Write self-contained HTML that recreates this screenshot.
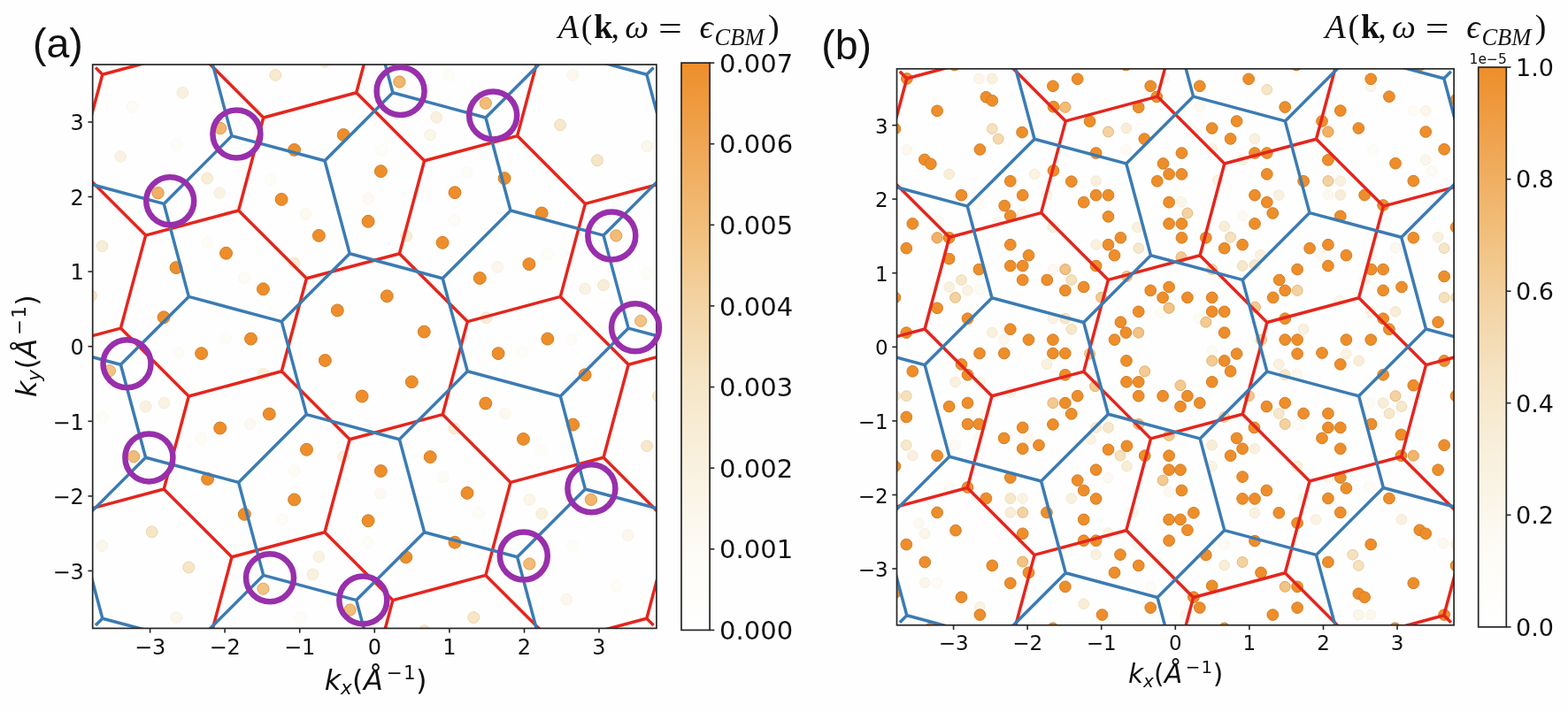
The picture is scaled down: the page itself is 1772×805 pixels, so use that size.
<!DOCTYPE html><html><head><meta charset="utf-8"><style>html,body{margin:0;padding:0;background:#fefefe;overflow:hidden}svg{display:block}</style></head><body><svg width="1772" height="805" viewBox="0 0 1772 805">
<defs><linearGradient id="cb" x1="0" y1="1" x2="0" y2="0"><stop offset="0" stop-color="rgb(255, 255, 255)"/><stop offset="0.14" stop-color="rgb(253, 251, 245)"/><stop offset="0.29" stop-color="rgb(249, 241, 223)"/><stop offset="0.43" stop-color="rgb(245, 230, 200)"/><stop offset="0.57" stop-color="rgb(243, 212, 165)"/><stop offset="0.71" stop-color="rgb(241, 190, 122)"/><stop offset="0.86" stop-color="rgb(239, 165, 82)"/><stop offset="1.0" stop-color="rgb(238, 142, 42)"/></linearGradient>
<clipPath id="clipa"><rect x="104.7" y="73.0" width="637.2" height="637.4"/></clipPath>
<clipPath id="circa"><circle cx="423.3" cy="391.7" r="445.9"/></clipPath>
<clipPath id="clipb"><rect x="1013.5" y="77.8" width="629.6" height="629.0"/></clipPath>
<clipPath id="circb"><circle cx="1328.3" cy="392.3" r="440.6"/></clipPath>
</defs>
<rect width="1772" height="805" fill="#fefefe"/>
<g clip-path="url(#clipa)">
<circle cx="199.4" cy="163.8" r="6.28" fill="rgb(253,252,247)" stroke="rgb(252,249,241)" stroke-width="1"/>
<circle cx="507.5" cy="85.0" r="6.28" fill="rgb(253,252,247)" stroke="rgb(252,249,241)" stroke-width="1"/>
<circle cx="431.0" cy="169.4" r="6.28" fill="rgb(253,252,247)" stroke="rgb(252,249,241)" stroke-width="1"/>
<circle cx="255.0" cy="383.0" r="6.28" fill="rgb(253,252,247)" stroke="rgb(252,249,241)" stroke-width="1"/>
<circle cx="731.0" cy="309.5" r="6.28" fill="rgb(253,252,247)" stroke="rgb(252,249,241)" stroke-width="1"/>
<circle cx="116.0" cy="471.5" r="6.28" fill="rgb(253,252,247)" stroke="rgb(252,249,241)" stroke-width="1"/>
<circle cx="590.0" cy="398.0" r="6.28" fill="rgb(253,252,247)" stroke="rgb(252,249,241)" stroke-width="1"/>
<circle cx="339.5" cy="698.1" r="6.28" fill="rgb(253,252,247)" stroke="rgb(252,249,241)" stroke-width="1"/>
<circle cx="647.6" cy="617.6" r="6.28" fill="rgb(253,252,247)" stroke="rgb(252,249,241)" stroke-width="1"/>
<circle cx="696.3" cy="662.3" r="6.28" fill="rgb(253,252,247)" stroke="rgb(252,249,241)" stroke-width="1"/>
<circle cx="645.3" cy="383.7" r="6.28" fill="rgb(253,252,247)" stroke="rgb(252,249,241)" stroke-width="1"/>
<circle cx="611.7" cy="509.1" r="6.28" fill="rgb(253,252,247)" stroke="rgb(252,249,241)" stroke-width="1"/>
<circle cx="415.6" cy="613.4" r="6.28" fill="rgb(253,252,247)" stroke="rgb(252,249,241)" stroke-width="1"/>
<circle cx="541.0" cy="579.8" r="6.28" fill="rgb(253,252,247)" stroke="rgb(252,249,241)" stroke-width="1"/>
<circle cx="227.2" cy="495.7" r="6.28" fill="rgb(253,252,247)" stroke="rgb(252,249,241)" stroke-width="1"/>
<circle cx="319.0" cy="587.5" r="6.28" fill="rgb(253,252,247)" stroke="rgb(252,249,241)" stroke-width="1"/>
<circle cx="234.9" cy="273.7" r="6.28" fill="rgb(253,252,247)" stroke="rgb(252,249,241)" stroke-width="1"/>
<circle cx="201.3" cy="399.1" r="6.28" fill="rgb(253,252,247)" stroke="rgb(252,249,241)" stroke-width="1"/>
<circle cx="305.6" cy="203.0" r="6.28" fill="rgb(253,252,247)" stroke="rgb(252,249,241)" stroke-width="1"/>
<circle cx="619.4" cy="287.1" r="6.28" fill="rgb(253,252,247)" stroke="rgb(252,249,241)" stroke-width="1"/>
<circle cx="527.6" cy="195.3" r="6.28" fill="rgb(253,252,247)" stroke="rgb(252,249,241)" stroke-width="1"/>
<circle cx="149.7" cy="120.7" r="6.28" fill="rgb(253,251,245)" stroke="rgb(252,247,237)" stroke-width="1"/>
<circle cx="275.9" cy="314.5" r="6.28" fill="rgb(253,251,245)" stroke="rgb(252,247,237)" stroke-width="1"/>
<circle cx="513.4" cy="248.9" r="6.28" fill="rgb(253,251,245)" stroke="rgb(252,247,237)" stroke-width="1"/>
<circle cx="332.6" cy="532.1" r="6.28" fill="rgb(253,251,245)" stroke="rgb(252,247,237)" stroke-width="1"/>
<circle cx="500.5" cy="539.5" r="6.28" fill="rgb(253,251,245)" stroke="rgb(252,247,237)" stroke-width="1"/>
<circle cx="416.0" cy="224.5" r="6.29" fill="rgb(253,250,243)" stroke="rgb(251,246,235)" stroke-width="1"/>
<circle cx="345.5" cy="242.0" r="6.29" fill="rgb(252,249,242)" stroke="rgb(251,246,233)" stroke-width="1"/>
<circle cx="282.9" cy="479.5" r="6.29" fill="rgb(252,249,242)" stroke="rgb(251,246,233)" stroke-width="1"/>
<circle cx="571.1" cy="467.5" r="6.29" fill="rgb(252,249,242)" stroke="rgb(251,246,233)" stroke-width="1"/>
<circle cx="430.0" cy="558.0" r="6.29" fill="rgb(252,249,242)" stroke="rgb(251,246,233)" stroke-width="1"/>
<circle cx="647.2" cy="84.9" r="6.30" fill="rgb(252,248,239)" stroke="rgb(250,244,229)" stroke-width="1"/>
<circle cx="731.1" cy="165.4" r="6.30" fill="rgb(251,247,236)" stroke="rgb(249,241,225)" stroke-width="1"/>
<circle cx="562.5" cy="302.0" r="6.30" fill="rgb(251,247,236)" stroke="rgb(249,241,225)" stroke-width="1"/>
<circle cx="115.5" cy="617.2" r="6.30" fill="rgb(251,247,236)" stroke="rgb(249,241,225)" stroke-width="1"/>
<circle cx="199.4" cy="698.1" r="6.30" fill="rgb(251,247,236)" stroke="rgb(249,241,225)" stroke-width="1"/>
<circle cx="709.6" cy="605.3" r="6.30" fill="rgb(251,247,236)" stroke="rgb(249,241,225)" stroke-width="1"/>
<circle cx="640.3" cy="677.6" r="6.30" fill="rgb(251,247,236)" stroke="rgb(249,241,225)" stroke-width="1"/>
<circle cx="486.2" cy="152.5" r="6.31" fill="rgb(251,246,233)" stroke="rgb(248,240,221)" stroke-width="1"/>
<circle cx="598.3" cy="564.9" r="6.31" fill="rgb(251,246,233)" stroke="rgb(248,240,221)" stroke-width="1"/>
<circle cx="136.2" cy="177.0" r="6.32" fill="rgb(250,243,228)" stroke="rgb(247,236,214)" stroke-width="1"/>
<circle cx="248.1" cy="218.1" r="6.32" fill="rgb(250,243,228)" stroke="rgb(247,236,214)" stroke-width="1"/>
<circle cx="661.1" cy="326.4" r="6.32" fill="rgb(250,243,228)" stroke="rgb(247,236,214)" stroke-width="1"/>
<circle cx="185.5" cy="455.6" r="6.32" fill="rgb(250,243,228)" stroke="rgb(247,236,214)" stroke-width="1"/>
<circle cx="360.4" cy="629.5" r="6.32" fill="rgb(250,243,228)" stroke="rgb(247,236,214)" stroke-width="1"/>
<circle cx="206.4" cy="104.8" r="6.34" fill="rgb(249,241,223)" stroke="rgb(246,233,208)" stroke-width="1"/>
<circle cx="493.2" cy="132.6" r="6.34" fill="rgb(249,241,223)" stroke="rgb(246,233,208)" stroke-width="1"/>
<circle cx="164.6" cy="459.6" r="6.34" fill="rgb(249,241,223)" stroke="rgb(246,233,208)" stroke-width="1"/>
<circle cx="297.4" cy="422.8" r="6.34" fill="rgb(249,241,223)" stroke="rgb(246,233,208)" stroke-width="1"/>
<circle cx="388.2" cy="516.2" r="6.34" fill="rgb(249,241,223)" stroke="rgb(246,233,208)" stroke-width="1"/>
<circle cx="353.4" cy="649.4" r="6.34" fill="rgb(249,241,223)" stroke="rgb(246,233,208)" stroke-width="1"/>
<circle cx="612.2" cy="580.8" r="6.34" fill="rgb(249,241,223)" stroke="rgb(246,233,208)" stroke-width="1"/>
<circle cx="234.2" cy="201.6" r="6.36" fill="rgb(248,237,215)" stroke="rgb(243,228,198)" stroke-width="1"/>
<circle cx="115.5" cy="278.3" r="6.36" fill="rgb(248,237,215)" stroke="rgb(243,228,198)" stroke-width="1"/>
<circle cx="332.6" cy="297.6" r="6.36" fill="rgb(248,237,215)" stroke="rgb(243,228,198)" stroke-width="1"/>
<circle cx="459.2" cy="266.8" r="6.36" fill="rgb(248,237,215)" stroke="rgb(243,228,198)" stroke-width="1"/>
<circle cx="549.6" cy="359.2" r="6.36" fill="rgb(248,237,215)" stroke="rgb(243,228,198)" stroke-width="1"/>
<circle cx="682.0" cy="322.4" r="6.36" fill="rgb(248,237,215)" stroke="rgb(243,228,198)" stroke-width="1"/>
<circle cx="513.4" cy="484.4" r="6.36" fill="rgb(248,237,215)" stroke="rgb(243,228,198)" stroke-width="1"/>
<circle cx="311.3" cy="84.9" r="6.38" fill="rgb(246,234,208)" stroke="rgb(242,221,184)" stroke-width="1"/>
<circle cx="633.1" cy="141.2" r="6.39" fill="rgb(246,232,204)" stroke="rgb(241,217,176)" stroke-width="1"/>
<circle cx="103.0" cy="334.4" r="6.39" fill="rgb(246,232,204)" stroke="rgb(241,217,176)" stroke-width="1"/>
<circle cx="731.1" cy="504.3" r="6.39" fill="rgb(246,232,204)" stroke="rgb(241,217,176)" stroke-width="1"/>
<circle cx="744.0" cy="448.0" r="6.39" fill="rgb(246,232,204)" stroke="rgb(241,217,176)" stroke-width="1"/>
<circle cx="366.9" cy="69.5" r="6.39" fill="rgb(246,232,204)" stroke="rgb(241,217,176)" stroke-width="1"/>
<circle cx="479.7" cy="713.3" r="6.39" fill="rgb(246,232,204)" stroke="rgb(241,217,176)" stroke-width="1"/>
<circle cx="675.0" cy="181.3" r="6.41" fill="rgb(245,230,199)" stroke="rgb(240,212,168)" stroke-width="1"/>
<circle cx="171.6" cy="601.3" r="6.41" fill="rgb(245,230,199)" stroke="rgb(240,212,168)" stroke-width="1"/>
<circle cx="213.3" cy="641.4" r="6.41" fill="rgb(245,230,199)" stroke="rgb(240,212,168)" stroke-width="1"/>
<circle cx="535.3" cy="698.1" r="6.41" fill="rgb(245,230,199)" stroke="rgb(240,212,168)" stroke-width="1"/>
<circle cx="724.1" cy="362.8" r="6.57" fill="rgb(241,195,132)" stroke="rgb(231,167,92)" stroke-width="1"/>
<circle cx="123.9" cy="419.2" r="6.57" fill="rgb(241,195,132)" stroke="rgb(231,167,92)" stroke-width="1"/>
<circle cx="297.4" cy="665.7" r="6.57" fill="rgb(241,195,132)" stroke="rgb(231,167,92)" stroke-width="1"/>
<circle cx="548.8" cy="116.7" r="6.60" fill="rgb(241,188,119)" stroke="rgb(229,159,80)" stroke-width="1"/>
<circle cx="696.3" cy="266.4" r="6.60" fill="rgb(241,188,119)" stroke="rgb(229,159,80)" stroke-width="1"/>
<circle cx="151.1" cy="516.2" r="6.60" fill="rgb(241,188,119)" stroke="rgb(229,159,80)" stroke-width="1"/>
<circle cx="395.6" cy="689.5" r="6.60" fill="rgb(241,188,119)" stroke="rgb(229,159,80)" stroke-width="1"/>
<circle cx="598.3" cy="637.5" r="6.60" fill="rgb(241,188,119)" stroke="rgb(229,159,80)" stroke-width="1"/>
<circle cx="249.1" cy="145.1" r="6.64" fill="rgb(240,182,110)" stroke="rgb(227,152,69)" stroke-width="1"/>
<circle cx="451.4" cy="92.5" r="6.64" fill="rgb(240,182,110)" stroke="rgb(227,152,69)" stroke-width="1"/>
<circle cx="667.9" cy="564.9" r="6.64" fill="rgb(240,182,110)" stroke="rgb(227,152,69)" stroke-width="1"/>
<circle cx="178.5" cy="218.1" r="6.67" fill="rgb(240,177,102)" stroke="rgb(226,145,59)" stroke-width="1"/>
<circle cx="332.6" cy="169.4" r="6.95" fill="rgb(238,142,42)" stroke="rgb(209,125,37)" stroke-width="1"/>
<circle cx="388.2" cy="152.5" r="6.95" fill="rgb(238,142,42)" stroke="rgb(209,125,37)" stroke-width="1"/>
<circle cx="318.1" cy="225.4" r="6.95" fill="rgb(238,142,42)" stroke="rgb(209,125,37)" stroke-width="1"/>
<circle cx="430.4" cy="193.6" r="6.95" fill="rgb(238,142,42)" stroke="rgb(209,125,37)" stroke-width="1"/>
<circle cx="514.0" cy="217.7" r="6.95" fill="rgb(238,142,42)" stroke="rgb(209,125,37)" stroke-width="1"/>
<circle cx="570.1" cy="201.6" r="6.95" fill="rgb(238,142,42)" stroke="rgb(209,125,37)" stroke-width="1"/>
<circle cx="199.0" cy="302.6" r="6.95" fill="rgb(238,142,42)" stroke="rgb(209,125,37)" stroke-width="1"/>
<circle cx="255.5" cy="286.3" r="6.95" fill="rgb(238,142,42)" stroke="rgb(209,125,37)" stroke-width="1"/>
<circle cx="185.1" cy="358.8" r="6.95" fill="rgb(238,142,42)" stroke="rgb(209,125,37)" stroke-width="1"/>
<circle cx="360.4" cy="266.4" r="6.95" fill="rgb(238,142,42)" stroke="rgb(209,125,37)" stroke-width="1"/>
<circle cx="416.1" cy="250.3" r="6.95" fill="rgb(238,142,42)" stroke="rgb(209,125,37)" stroke-width="1"/>
<circle cx="297.4" cy="326.8" r="6.95" fill="rgb(238,142,42)" stroke="rgb(209,125,37)" stroke-width="1"/>
<circle cx="381.3" cy="350.9" r="6.95" fill="rgb(238,142,42)" stroke="rgb(209,125,37)" stroke-width="1"/>
<circle cx="283.5" cy="383.1" r="6.95" fill="rgb(238,142,42)" stroke="rgb(209,125,37)" stroke-width="1"/>
<circle cx="500.1" cy="274.3" r="6.95" fill="rgb(238,142,42)" stroke="rgb(209,125,37)" stroke-width="1"/>
<circle cx="542.3" cy="314.5" r="6.95" fill="rgb(238,142,42)" stroke="rgb(209,125,37)" stroke-width="1"/>
<circle cx="437.3" cy="334.8" r="6.95" fill="rgb(238,142,42)" stroke="rgb(209,125,37)" stroke-width="1"/>
<circle cx="479.3" cy="375.1" r="6.95" fill="rgb(238,142,42)" stroke="rgb(209,125,37)" stroke-width="1"/>
<circle cx="612.2" cy="241.0" r="6.95" fill="rgb(238,142,42)" stroke="rgb(209,125,37)" stroke-width="1"/>
<circle cx="597.9" cy="298.6" r="6.95" fill="rgb(238,142,42)" stroke="rgb(209,125,37)" stroke-width="1"/>
<circle cx="618.8" cy="383.1" r="6.95" fill="rgb(238,142,42)" stroke="rgb(209,125,37)" stroke-width="1"/>
<circle cx="227.6" cy="399.6" r="6.95" fill="rgb(238,142,42)" stroke="rgb(209,125,37)" stroke-width="1"/>
<circle cx="248.7" cy="484.0" r="6.95" fill="rgb(238,142,42)" stroke="rgb(209,125,37)" stroke-width="1"/>
<circle cx="234.6" cy="541.5" r="6.95" fill="rgb(238,142,42)" stroke="rgb(209,125,37)" stroke-width="1"/>
<circle cx="367.4" cy="407.5" r="6.95" fill="rgb(238,142,42)" stroke="rgb(209,125,37)" stroke-width="1"/>
<circle cx="409.1" cy="448.0" r="6.95" fill="rgb(238,142,42)" stroke="rgb(209,125,37)" stroke-width="1"/>
<circle cx="304.3" cy="468.1" r="6.95" fill="rgb(238,142,42)" stroke="rgb(209,125,37)" stroke-width="1"/>
<circle cx="346.5" cy="508.3" r="6.95" fill="rgb(238,142,42)" stroke="rgb(209,125,37)" stroke-width="1"/>
<circle cx="563.1" cy="399.6" r="6.95" fill="rgb(238,142,42)" stroke="rgb(209,125,37)" stroke-width="1"/>
<circle cx="465.3" cy="431.8" r="6.95" fill="rgb(238,142,42)" stroke="rgb(209,125,37)" stroke-width="1"/>
<circle cx="548.8" cy="456.0" r="6.95" fill="rgb(238,142,42)" stroke="rgb(209,125,37)" stroke-width="1"/>
<circle cx="486.2" cy="516.6" r="6.95" fill="rgb(238,142,42)" stroke="rgb(209,125,37)" stroke-width="1"/>
<circle cx="430.4" cy="532.5" r="6.95" fill="rgb(238,142,42)" stroke="rgb(209,125,37)" stroke-width="1"/>
<circle cx="661.1" cy="423.8" r="6.95" fill="rgb(238,142,42)" stroke="rgb(209,125,37)" stroke-width="1"/>
<circle cx="647.6" cy="480.1" r="6.95" fill="rgb(238,142,42)" stroke="rgb(209,125,37)" stroke-width="1"/>
<circle cx="591.4" cy="496.4" r="6.95" fill="rgb(238,142,42)" stroke="rgb(209,125,37)" stroke-width="1"/>
<circle cx="332.6" cy="564.9" r="6.95" fill="rgb(238,142,42)" stroke="rgb(209,125,37)" stroke-width="1"/>
<circle cx="276.3" cy="581.4" r="6.95" fill="rgb(238,142,42)" stroke="rgb(209,125,37)" stroke-width="1"/>
<circle cx="416.1" cy="588.8" r="6.95" fill="rgb(238,142,42)" stroke="rgb(209,125,37)" stroke-width="1"/>
<circle cx="528.0" cy="557.4" r="6.95" fill="rgb(238,142,42)" stroke="rgb(209,125,37)" stroke-width="1"/>
<circle cx="514.0" cy="613.2" r="6.95" fill="rgb(238,142,42)" stroke="rgb(209,125,37)" stroke-width="1"/>
<circle cx="458.8" cy="629.9" r="6.95" fill="rgb(238,142,42)" stroke="rgb(209,125,37)" stroke-width="1"/>
<g clip-path="url(#circa)">
<path d="M52.0 686.1L128.9 763.0M185.2 553.0L262.0 629.8M80.2 581.1L185.2 553.0M262.0 629.8L233.9 734.8M136.4 371.1L213.3 448.0M31.4 399.2L136.4 371.1M213.3 448.0L185.2 553.0M87.7 189.2L164.6 266.1M164.6 266.1L136.4 371.1M39.0 7.4L115.8 84.2M115.8 84.2L87.7 189.2M367.0 601.7L443.9 678.6M262.0 629.8L367.0 601.7M443.9 678.6L415.8 783.6M318.3 419.8L395.2 496.7M213.3 448.0L318.3 419.8M395.2 496.7L367.0 601.7M269.6 238.0L346.4 314.8M164.6 266.1L269.6 238.0M346.4 314.8L318.3 419.8M220.8 56.1L297.7 133.0M115.8 84.2L220.8 56.1M297.7 133.0L269.6 238.0M548.9 650.4L625.8 727.3M443.9 678.6L548.9 650.4M500.2 468.6L577.0 545.4M395.2 496.7L500.2 468.6M577.0 545.4L548.9 650.4M451.4 286.7L528.3 363.6M346.4 314.8L451.4 286.7M528.3 363.6L500.2 468.6M402.7 104.8L479.6 181.7M297.7 133.0L402.7 104.8M479.6 181.7L451.4 286.7M430.8 -0.2L402.7 104.8M730.8 699.2L807.6 776.0M625.8 727.3L730.8 699.2M682.0 517.3L758.9 594.2M577.0 545.4L682.0 517.3M758.9 594.2L730.8 699.2M633.3 335.4L710.2 412.3M528.3 363.6L633.3 335.4M710.2 412.3L682.0 517.3M584.6 153.6L661.4 230.4M479.6 181.7L584.6 153.6M661.4 230.4L633.3 335.4M612.7 48.6L584.6 153.6M710.2 412.3L815.2 384.2M661.4 230.4L766.4 202.3M717.7 20.4L794.6 97.3" stroke="#e5251d" stroke-width="3.5" fill="none" stroke-linecap="projecting" stroke-linejoin="miter"/>
<path d="M115.8 699.2L220.8 727.3M39.0 776.0L115.8 699.2M87.7 594.2L115.8 699.2M297.7 650.4L402.7 678.6M220.8 727.3L297.7 650.4M402.7 678.6L430.8 783.6M164.6 517.3L269.6 545.4M87.7 594.2L164.6 517.3M269.6 545.4L297.7 650.4M31.4 384.2L136.4 412.3M136.4 412.3L164.6 517.3M479.6 601.7L584.6 629.8M402.7 678.6L479.6 601.7M584.6 629.8L612.7 734.8M346.4 468.6L451.4 496.7M269.6 545.4L346.4 468.6M451.4 496.7L479.6 601.7M213.3 335.4L318.3 363.6M136.4 412.3L213.3 335.4M318.3 363.6L346.4 468.6M80.2 202.3L185.2 230.4M185.2 230.4L213.3 335.4M717.7 763.0L794.6 686.1M661.4 553.0L766.4 581.1M584.6 629.8L661.4 553.0M528.3 419.8L633.3 448.0M451.4 496.7L528.3 419.8M633.3 448.0L661.4 553.0M395.2 286.7L500.2 314.8M318.3 363.6L395.2 286.7M500.2 314.8L528.3 419.8M262.0 153.6L367.0 181.7M185.2 230.4L262.0 153.6M367.0 181.7L395.2 286.7M52.0 97.3L128.9 20.4M233.9 48.6L262.0 153.6M710.2 371.1L815.2 399.2M633.3 448.0L710.2 371.1M577.0 238.0L682.0 266.1M500.2 314.8L577.0 238.0M682.0 266.1L710.2 371.1M443.9 104.8L548.9 133.0M367.0 181.7L443.9 104.8M548.9 133.0L577.0 238.0M415.8 -0.2L443.9 104.8M682.0 266.1L758.9 189.2M625.8 56.1L730.8 84.2M548.9 133.0L625.8 56.1M730.8 84.2L758.9 189.2M730.8 84.2L807.6 7.4" stroke="#3b7bb3" stroke-width="3.5" fill="none" stroke-linecap="projecting" stroke-linejoin="miter"/>
</g>
</g>
<rect x="104.7" y="73.0" width="637.2" height="637.4" fill="none" stroke="#262626" stroke-width="1.7"/>
<line x1="169.6" y1="710.4" x2="169.6" y2="715.6" stroke="#262626" stroke-width="1.6"/>
<line x1="99.5" y1="645.4" x2="104.7" y2="645.4" stroke="#262626" stroke-width="1.6"/>
<text x="169.6" y="740.0" font-family="DejaVu Sans, sans-serif" font-size="24" text-anchor="middle" fill="#111">−3</text>
<text x="94.9" y="654.7" font-family="DejaVu Sans, sans-serif" font-size="24" text-anchor="end" fill="#111">−3</text>
<line x1="254.1" y1="710.4" x2="254.1" y2="715.6" stroke="#262626" stroke-width="1.6"/>
<line x1="99.5" y1="560.9" x2="104.7" y2="560.9" stroke="#262626" stroke-width="1.6"/>
<text x="254.1" y="740.0" font-family="DejaVu Sans, sans-serif" font-size="24" text-anchor="middle" fill="#111">−2</text>
<text x="94.9" y="570.2" font-family="DejaVu Sans, sans-serif" font-size="24" text-anchor="end" fill="#111">−2</text>
<line x1="338.7" y1="710.4" x2="338.7" y2="715.6" stroke="#262626" stroke-width="1.6"/>
<line x1="99.5" y1="476.3" x2="104.7" y2="476.3" stroke="#262626" stroke-width="1.6"/>
<text x="338.7" y="740.0" font-family="DejaVu Sans, sans-serif" font-size="24" text-anchor="middle" fill="#111">−1</text>
<text x="94.9" y="485.6" font-family="DejaVu Sans, sans-serif" font-size="24" text-anchor="end" fill="#111">−1</text>
<line x1="423.3" y1="710.4" x2="423.3" y2="715.6" stroke="#262626" stroke-width="1.6"/>
<line x1="99.5" y1="391.7" x2="104.7" y2="391.7" stroke="#262626" stroke-width="1.6"/>
<text x="423.3" y="740.0" font-family="DejaVu Sans, sans-serif" font-size="24" text-anchor="middle" fill="#111">0</text>
<text x="94.9" y="401.0" font-family="DejaVu Sans, sans-serif" font-size="24" text-anchor="end" fill="#111">0</text>
<line x1="507.9" y1="710.4" x2="507.9" y2="715.6" stroke="#262626" stroke-width="1.6"/>
<line x1="99.5" y1="307.1" x2="104.7" y2="307.1" stroke="#262626" stroke-width="1.6"/>
<text x="507.9" y="740.0" font-family="DejaVu Sans, sans-serif" font-size="24" text-anchor="middle" fill="#111">1</text>
<text x="94.9" y="316.4" font-family="DejaVu Sans, sans-serif" font-size="24" text-anchor="end" fill="#111">1</text>
<line x1="592.5" y1="710.4" x2="592.5" y2="715.6" stroke="#262626" stroke-width="1.6"/>
<line x1="99.5" y1="222.5" x2="104.7" y2="222.5" stroke="#262626" stroke-width="1.6"/>
<text x="592.5" y="740.0" font-family="DejaVu Sans, sans-serif" font-size="24" text-anchor="middle" fill="#111">2</text>
<text x="94.9" y="231.8" font-family="DejaVu Sans, sans-serif" font-size="24" text-anchor="end" fill="#111">2</text>
<line x1="677.0" y1="710.4" x2="677.0" y2="715.6" stroke="#262626" stroke-width="1.6"/>
<line x1="99.5" y1="138.0" x2="104.7" y2="138.0" stroke="#262626" stroke-width="1.6"/>
<text x="677.0" y="740.0" font-family="DejaVu Sans, sans-serif" font-size="24" text-anchor="middle" fill="#111">3</text>
<text x="94.9" y="147.3" font-family="DejaVu Sans, sans-serif" font-size="24" text-anchor="end" fill="#111">3</text>
<g clip-path="url(#clipb)">
<circle cx="1597.3" cy="125.1" r="5.73" fill="rgb(253,252,247)" stroke="rgb(252,249,241)" stroke-width="1"/>
<circle cx="1551.6" cy="169.4" r="5.73" fill="rgb(253,252,247)" stroke="rgb(252,249,241)" stroke-width="1"/>
<circle cx="1583.4" cy="229.0" r="5.73" fill="rgb(253,252,247)" stroke="rgb(252,249,241)" stroke-width="1"/>
<circle cx="1354.8" cy="360.2" r="5.74" fill="rgb(253,251,245)" stroke="rgb(252,247,237)" stroke-width="1"/>
<circle cx="1618.2" cy="193.3" r="5.74" fill="rgb(253,251,245)" stroke="rgb(252,247,237)" stroke-width="1"/>
<circle cx="1106.4" cy="231.0" r="5.74" fill="rgb(253,251,245)" stroke="rgb(252,247,237)" stroke-width="1"/>
<circle cx="1272.4" cy="169.4" r="5.74" fill="rgb(253,251,245)" stroke="rgb(252,247,237)" stroke-width="1"/>
<circle cx="1107.4" cy="327.4" r="5.74" fill="rgb(253,251,245)" stroke="rgb(252,247,237)" stroke-width="1"/>
<circle cx="1312.1" cy="353.3" r="5.74" fill="rgb(253,251,245)" stroke="rgb(252,247,237)" stroke-width="1"/>
<circle cx="1079.6" cy="503.3" r="5.74" fill="rgb(253,251,245)" stroke="rgb(252,247,237)" stroke-width="1"/>
<circle cx="1072.6" cy="552.0" r="5.74" fill="rgb(253,251,245)" stroke="rgb(252,247,237)" stroke-width="1"/>
<circle cx="1467.1" cy="480.5" r="5.74" fill="rgb(253,251,245)" stroke="rgb(252,247,237)" stroke-width="1"/>
<circle cx="1369.7" cy="397.0" r="5.74" fill="rgb(253,251,245)" stroke="rgb(252,247,237)" stroke-width="1"/>
<circle cx="1547.6" cy="455.6" r="5.74" fill="rgb(253,251,245)" stroke="rgb(252,247,237)" stroke-width="1"/>
<circle cx="1547.6" cy="550.0" r="5.74" fill="rgb(253,251,245)" stroke="rgb(252,247,237)" stroke-width="1"/>
<circle cx="1059.1" cy="658.9" r="5.74" fill="rgb(253,251,245)" stroke="rgb(252,247,237)" stroke-width="1"/>
<circle cx="1300.2" cy="663.3" r="5.74" fill="rgb(253,251,245)" stroke="rgb(252,247,237)" stroke-width="1"/>
<circle cx="1383.7" cy="615.6" r="5.74" fill="rgb(253,251,245)" stroke="rgb(252,247,237)" stroke-width="1"/>
<circle cx="1404.5" cy="244.0" r="5.75" fill="rgb(252,249,242)" stroke="rgb(251,246,233)" stroke-width="1"/>
<circle cx="1493.0" cy="288.7" r="5.75" fill="rgb(252,249,242)" stroke="rgb(251,246,233)" stroke-width="1"/>
<circle cx="1549.6" cy="288.7" r="5.75" fill="rgb(252,249,242)" stroke="rgb(251,246,233)" stroke-width="1"/>
<circle cx="1355.8" cy="120.7" r="5.75" fill="rgb(252,249,242)" stroke="rgb(251,246,233)" stroke-width="1"/>
<circle cx="1348.9" cy="148.6" r="5.75" fill="rgb(252,249,242)" stroke="rgb(251,246,233)" stroke-width="1"/>
<circle cx="1316.1" cy="87.9" r="5.75" fill="rgb(252,249,242)" stroke="rgb(251,246,233)" stroke-width="1"/>
<circle cx="1060.7" cy="249.9" r="5.75" fill="rgb(252,249,242)" stroke="rgb(251,246,233)" stroke-width="1"/>
<circle cx="1189.9" cy="304.6" r="5.75" fill="rgb(252,249,242)" stroke="rgb(251,246,233)" stroke-width="1"/>
<circle cx="1113.4" cy="467.5" r="5.75" fill="rgb(252,249,242)" stroke="rgb(251,246,233)" stroke-width="1"/>
<circle cx="1106.4" cy="495.4" r="5.75" fill="rgb(252,249,242)" stroke="rgb(251,246,233)" stroke-width="1"/>
<circle cx="1252.5" cy="540.1" r="5.75" fill="rgb(252,249,242)" stroke="rgb(251,246,233)" stroke-width="1"/>
<circle cx="1597.3" cy="529.2" r="5.75" fill="rgb(252,249,242)" stroke="rgb(251,246,233)" stroke-width="1"/>
<circle cx="1038.4" cy="591.3" r="5.75" fill="rgb(252,249,242)" stroke="rgb(251,246,233)" stroke-width="1"/>
<circle cx="1321.1" cy="556.0" r="5.75" fill="rgb(252,249,242)" stroke="rgb(251,246,233)" stroke-width="1"/>
<circle cx="1308.2" cy="635.5" r="5.75" fill="rgb(252,249,242)" stroke="rgb(251,246,233)" stroke-width="1"/>
<circle cx="1340.0" cy="695.0" r="5.75" fill="rgb(252,249,242)" stroke="rgb(251,246,233)" stroke-width="1"/>
<circle cx="1577.0" cy="280.1" r="5.75" fill="rgb(252,248,239)" stroke="rgb(250,244,229)" stroke-width="1"/>
<circle cx="1500.9" cy="220.5" r="5.75" fill="rgb(252,248,239)" stroke="rgb(250,244,229)" stroke-width="1"/>
<circle cx="1024.9" cy="169.4" r="5.75" fill="rgb(252,248,239)" stroke="rgb(250,244,229)" stroke-width="1"/>
<circle cx="1128.3" cy="250.9" r="5.75" fill="rgb(252,248,239)" stroke="rgb(250,244,229)" stroke-width="1"/>
<circle cx="1134.2" cy="384.1" r="5.75" fill="rgb(252,248,239)" stroke="rgb(250,244,229)" stroke-width="1"/>
<circle cx="1162.1" cy="495.4" r="5.75" fill="rgb(252,248,239)" stroke="rgb(250,244,229)" stroke-width="1"/>
<circle cx="1466.1" cy="422.8" r="5.75" fill="rgb(252,248,239)" stroke="rgb(250,244,229)" stroke-width="1"/>
<circle cx="1500.9" cy="540.1" r="5.75" fill="rgb(252,248,239)" stroke="rgb(250,244,229)" stroke-width="1"/>
<circle cx="1285.9" cy="615.6" r="5.75" fill="rgb(252,248,239)" stroke="rgb(250,244,229)" stroke-width="1"/>
<circle cx="1473.1" cy="562.9" r="5.75" fill="rgb(252,248,239)" stroke="rgb(250,244,229)" stroke-width="1"/>
<circle cx="1631.1" cy="614.6" r="5.75" fill="rgb(252,248,239)" stroke="rgb(250,244,229)" stroke-width="1"/>
<circle cx="1549.2" cy="695.1" r="5.75" fill="rgb(252,248,239)" stroke="rgb(250,244,229)" stroke-width="1"/>
<circle cx="1611.2" cy="180.8" r="5.76" fill="rgb(251,247,236)" stroke="rgb(249,241,225)" stroke-width="1"/>
<circle cx="1542.7" cy="316.5" r="5.77" fill="rgb(251,246,233)" stroke="rgb(248,240,221)" stroke-width="1"/>
<circle cx="1513.8" cy="340.4" r="5.77" fill="rgb(251,246,233)" stroke="rgb(248,240,221)" stroke-width="1"/>
<circle cx="1335.0" cy="228.1" r="5.77" fill="rgb(251,246,233)" stroke="rgb(248,240,221)" stroke-width="1"/>
<circle cx="1549.2" cy="97.9" r="5.77" fill="rgb(251,246,233)" stroke="rgb(248,240,221)" stroke-width="1"/>
<circle cx="1611.2" cy="125.1" r="5.77" fill="rgb(251,246,233)" stroke="rgb(248,240,221)" stroke-width="1"/>
<circle cx="1106.4" cy="88.9" r="5.77" fill="rgb(251,246,233)" stroke="rgb(248,240,221)" stroke-width="1"/>
<circle cx="1182.9" cy="220.7" r="5.77" fill="rgb(251,246,233)" stroke="rgb(248,240,221)" stroke-width="1"/>
<circle cx="1155.7" cy="242.0" r="5.77" fill="rgb(251,246,233)" stroke="rgb(248,240,221)" stroke-width="1"/>
<circle cx="1107.4" cy="431.8" r="5.77" fill="rgb(251,246,233)" stroke="rgb(248,240,221)" stroke-width="1"/>
<circle cx="1141.8" cy="443.7" r="5.77" fill="rgb(251,246,233)" stroke="rgb(248,240,221)" stroke-width="1"/>
<circle cx="1045.2" cy="603.3" r="5.77" fill="rgb(251,246,233)" stroke="rgb(248,240,221)" stroke-width="1"/>
<circle cx="1045.2" cy="658.9" r="5.77" fill="rgb(251,246,233)" stroke="rgb(248,240,221)" stroke-width="1"/>
<circle cx="1280.3" cy="579.4" r="5.77" fill="rgb(251,246,233)" stroke="rgb(248,240,221)" stroke-width="1"/>
<circle cx="1535.3" cy="695.1" r="5.77" fill="rgb(251,246,233)" stroke="rgb(248,240,221)" stroke-width="1"/>
<circle cx="1549.2" cy="352.3" r="5.78" fill="rgb(250,243,228)" stroke="rgb(247,236,214)" stroke-width="1"/>
<circle cx="1369.7" cy="168.4" r="5.78" fill="rgb(250,243,228)" stroke="rgb(247,236,214)" stroke-width="1"/>
<circle cx="1404.5" cy="181.0" r="5.78" fill="rgb(250,243,228)" stroke="rgb(247,236,214)" stroke-width="1"/>
<circle cx="1376.3" cy="203.8" r="5.78" fill="rgb(250,243,228)" stroke="rgb(247,236,214)" stroke-width="1"/>
<circle cx="1169.0" cy="196.9" r="5.78" fill="rgb(250,243,228)" stroke="rgb(247,236,214)" stroke-width="1"/>
<circle cx="1093.5" cy="328.4" r="5.78" fill="rgb(250,243,228)" stroke="rgb(247,236,214)" stroke-width="1"/>
<circle cx="1189.9" cy="360.2" r="5.78" fill="rgb(250,243,228)" stroke="rgb(247,236,214)" stroke-width="1"/>
<circle cx="1232.6" cy="496.4" r="5.78" fill="rgb(250,243,228)" stroke="rgb(247,236,214)" stroke-width="1"/>
<circle cx="1369.7" cy="527.2" r="5.78" fill="rgb(250,243,228)" stroke="rgb(247,236,214)" stroke-width="1"/>
<circle cx="1521.4" cy="400.0" r="5.78" fill="rgb(250,243,228)" stroke="rgb(247,236,214)" stroke-width="1"/>
<circle cx="1155.7" cy="563.5" r="5.78" fill="rgb(250,243,228)" stroke="rgb(247,236,214)" stroke-width="1"/>
<circle cx="1107.4" cy="686.2" r="5.78" fill="rgb(250,243,228)" stroke="rgb(247,236,214)" stroke-width="1"/>
<circle cx="1252.5" cy="602.7" r="5.78" fill="rgb(250,243,228)" stroke="rgb(247,236,214)" stroke-width="1"/>
<circle cx="1487.0" cy="587.4" r="5.78" fill="rgb(250,243,228)" stroke="rgb(247,236,214)" stroke-width="1"/>
<circle cx="1645.5" cy="615.6" r="5.78" fill="rgb(250,243,228)" stroke="rgb(247,236,214)" stroke-width="1"/>
<circle cx="1424.4" cy="288.1" r="5.79" fill="rgb(249,241,223)" stroke="rgb(246,233,208)" stroke-width="1"/>
<circle cx="1473.1" cy="372.2" r="5.79" fill="rgb(249,241,223)" stroke="rgb(246,233,208)" stroke-width="1"/>
<circle cx="1625.1" cy="268.2" r="5.79" fill="rgb(249,241,223)" stroke="rgb(246,233,208)" stroke-width="1"/>
<circle cx="1418.0" cy="156.9" r="5.79" fill="rgb(249,241,223)" stroke="rgb(246,233,208)" stroke-width="1"/>
<circle cx="1445.3" cy="220.7" r="5.79" fill="rgb(249,241,223)" stroke="rgb(246,233,208)" stroke-width="1"/>
<circle cx="1514.8" cy="204.6" r="5.79" fill="rgb(249,241,223)" stroke="rgb(246,233,208)" stroke-width="1"/>
<circle cx="1121.3" cy="88.9" r="5.79" fill="rgb(249,241,223)" stroke="rgb(246,233,208)" stroke-width="1"/>
<circle cx="1238.6" cy="204.6" r="5.79" fill="rgb(249,241,223)" stroke="rgb(246,233,208)" stroke-width="1"/>
<circle cx="1072.6" cy="324.5" r="5.79" fill="rgb(249,241,223)" stroke="rgb(246,233,208)" stroke-width="1"/>
<circle cx="1121.3" cy="376.1" r="5.79" fill="rgb(249,241,223)" stroke="rgb(246,233,208)" stroke-width="1"/>
<circle cx="1189.9" cy="256.9" r="5.79" fill="rgb(249,241,223)" stroke="rgb(246,233,208)" stroke-width="1"/>
<circle cx="1285.3" cy="256.9" r="5.79" fill="rgb(249,241,223)" stroke="rgb(246,233,208)" stroke-width="1"/>
<circle cx="1238.6" cy="276.7" r="5.79" fill="rgb(249,241,223)" stroke="rgb(246,233,208)" stroke-width="1"/>
<circle cx="1079.6" cy="431.8" r="5.79" fill="rgb(249,241,223)" stroke="rgb(246,233,208)" stroke-width="1"/>
<circle cx="1031.3" cy="515.2" r="5.79" fill="rgb(249,241,223)" stroke="rgb(246,233,208)" stroke-width="1"/>
<circle cx="1182.9" cy="411.9" r="5.79" fill="rgb(249,241,223)" stroke="rgb(246,233,208)" stroke-width="1"/>
<circle cx="1445.3" cy="411.9" r="5.79" fill="rgb(249,241,223)" stroke="rgb(246,233,208)" stroke-width="1"/>
<circle cx="1418.0" cy="507.3" r="5.79" fill="rgb(249,241,223)" stroke="rgb(246,233,208)" stroke-width="1"/>
<circle cx="1466.1" cy="527.2" r="5.79" fill="rgb(249,241,223)" stroke="rgb(246,233,208)" stroke-width="1"/>
<circle cx="1210.8" cy="563.5" r="5.79" fill="rgb(249,241,223)" stroke="rgb(246,233,208)" stroke-width="1"/>
<circle cx="1238.6" cy="627.1" r="5.79" fill="rgb(249,241,223)" stroke="rgb(246,233,208)" stroke-width="1"/>
<circle cx="1418.0" cy="579.8" r="5.79" fill="rgb(249,241,223)" stroke="rgb(246,233,208)" stroke-width="1"/>
<circle cx="1584.0" cy="587.4" r="5.79" fill="rgb(249,241,223)" stroke="rgb(246,233,208)" stroke-width="1"/>
<circle cx="1383.7" cy="255.9" r="5.81" fill="rgb(248,237,215)" stroke="rgb(243,228,198)" stroke-width="1"/>
<circle cx="1577.0" cy="352.3" r="5.81" fill="rgb(248,237,215)" stroke="rgb(243,228,198)" stroke-width="1"/>
<circle cx="1514.8" cy="220.5" r="5.81" fill="rgb(248,237,215)" stroke="rgb(243,228,198)" stroke-width="1"/>
<circle cx="1072.6" cy="196.9" r="5.81" fill="rgb(248,237,215)" stroke="rgb(243,228,198)" stroke-width="1"/>
<circle cx="1272.8" cy="145.0" r="5.81" fill="rgb(248,237,215)" stroke="rgb(243,228,198)" stroke-width="1"/>
<circle cx="1238.6" cy="483.4" r="5.81" fill="rgb(248,237,215)" stroke="rgb(243,228,198)" stroke-width="1"/>
<circle cx="1273.4" cy="527.2" r="5.81" fill="rgb(248,237,215)" stroke="rgb(243,228,198)" stroke-width="1"/>
<circle cx="1369.7" cy="503.3" r="5.81" fill="rgb(248,237,215)" stroke="rgb(243,228,198)" stroke-width="1"/>
<circle cx="1535.7" cy="407.9" r="5.81" fill="rgb(248,237,215)" stroke="rgb(243,228,198)" stroke-width="1"/>
<circle cx="1563.1" cy="455.6" r="5.81" fill="rgb(248,237,215)" stroke="rgb(243,228,198)" stroke-width="1"/>
<circle cx="1141.8" cy="579.4" r="5.81" fill="rgb(248,237,215)" stroke="rgb(243,228,198)" stroke-width="1"/>
<circle cx="1224.7" cy="682.8" r="5.81" fill="rgb(248,237,215)" stroke="rgb(243,228,198)" stroke-width="1"/>
<circle cx="1383.7" cy="639.0" r="5.81" fill="rgb(248,237,215)" stroke="rgb(243,228,198)" stroke-width="1"/>
<circle cx="1404.1" cy="300.6" r="5.84" fill="rgb(246,232,204)" stroke="rgb(241,217,176)" stroke-width="1"/>
<circle cx="1418.0" cy="299.6" r="5.84" fill="rgb(246,232,204)" stroke="rgb(241,217,176)" stroke-width="1"/>
<circle cx="1086.5" cy="316.5" r="5.84" fill="rgb(246,232,204)" stroke="rgb(241,217,176)" stroke-width="1"/>
<circle cx="1286.7" cy="280.7" r="5.84" fill="rgb(246,232,204)" stroke="rgb(241,217,176)" stroke-width="1"/>
<circle cx="1203.8" cy="360.2" r="5.84" fill="rgb(246,232,204)" stroke="rgb(241,217,176)" stroke-width="1"/>
<circle cx="1210.8" cy="372.2" r="5.84" fill="rgb(246,232,204)" stroke="rgb(241,217,176)" stroke-width="1"/>
<circle cx="1024.3" cy="503.3" r="5.84" fill="rgb(246,232,204)" stroke="rgb(241,217,176)" stroke-width="1"/>
<circle cx="1252.5" cy="483.4" r="5.84" fill="rgb(246,232,204)" stroke="rgb(241,217,176)" stroke-width="1"/>
<circle cx="1452.2" cy="423.8" r="5.84" fill="rgb(246,232,204)" stroke="rgb(241,217,176)" stroke-width="1"/>
<circle cx="1445.3" cy="467.5" r="5.84" fill="rgb(246,232,204)" stroke="rgb(241,217,176)" stroke-width="1"/>
<circle cx="1584.0" cy="459.6" r="5.84" fill="rgb(246,232,204)" stroke="rgb(241,217,176)" stroke-width="1"/>
<circle cx="1569.9" cy="467.5" r="5.84" fill="rgb(246,232,204)" stroke="rgb(241,217,176)" stroke-width="1"/>
<circle cx="1141.8" cy="563.5" r="5.84" fill="rgb(246,232,204)" stroke="rgb(241,217,176)" stroke-width="1"/>
<circle cx="1011.4" cy="447.7" r="5.84" fill="rgb(246,232,204)" stroke="rgb(241,217,176)" stroke-width="1"/>
<circle cx="1632.1" cy="280.7" r="5.85" fill="rgb(245,230,199)" stroke="rgb(240,212,168)" stroke-width="1"/>
<circle cx="1431.8" cy="101.3" r="5.85" fill="rgb(245,230,199)" stroke="rgb(240,212,168)" stroke-width="1"/>
<circle cx="1390.6" cy="268.2" r="5.87" fill="rgb(244,225,190)" stroke="rgb(239,205,156)" stroke-width="1"/>
<circle cx="1632.1" cy="336.4" r="5.87" fill="rgb(244,225,190)" stroke="rgb(239,205,156)" stroke-width="1"/>
<circle cx="1645.5" cy="336.4" r="5.87" fill="rgb(244,225,190)" stroke="rgb(239,205,156)" stroke-width="1"/>
<circle cx="1121.3" cy="145.6" r="5.87" fill="rgb(244,225,190)" stroke="rgb(239,205,156)" stroke-width="1"/>
<circle cx="1210.8" cy="316.5" r="5.87" fill="rgb(244,225,190)" stroke="rgb(239,205,156)" stroke-width="1"/>
<circle cx="1024.3" cy="447.7" r="5.87" fill="rgb(244,225,190)" stroke="rgb(239,205,156)" stroke-width="1"/>
<circle cx="1266.0" cy="515.2" r="5.87" fill="rgb(244,225,190)" stroke="rgb(239,205,156)" stroke-width="1"/>
<circle cx="1528.7" cy="627.1" r="5.87" fill="rgb(244,225,190)" stroke="rgb(239,205,156)" stroke-width="1"/>
<circle cx="1535.3" cy="639.4" r="5.87" fill="rgb(244,225,190)" stroke="rgb(239,205,156)" stroke-width="1"/>
<circle cx="1369.7" cy="304.6" r="5.91" fill="rgb(244,217,175)" stroke="rgb(237,194,134)" stroke-width="1"/>
<circle cx="1128.3" cy="157.1" r="5.91" fill="rgb(244,217,175)" stroke="rgb(237,194,134)" stroke-width="1"/>
<circle cx="1383.7" cy="471.5" r="5.91" fill="rgb(244,217,175)" stroke="rgb(237,194,134)" stroke-width="1"/>
<circle cx="1341.9" cy="241.0" r="5.94" fill="rgb(243,210,161)" stroke="rgb(235,183,116)" stroke-width="1"/>
<circle cx="1466.1" cy="328.4" r="5.94" fill="rgb(243,210,161)" stroke="rgb(235,183,116)" stroke-width="1"/>
<circle cx="1425.4" cy="384.1" r="5.94" fill="rgb(243,210,161)" stroke="rgb(235,183,116)" stroke-width="1"/>
<circle cx="1500.9" cy="204.6" r="5.94" fill="rgb(243,210,161)" stroke="rgb(235,183,116)" stroke-width="1"/>
<circle cx="1252.5" cy="149.0" r="5.94" fill="rgb(243,210,161)" stroke="rgb(235,183,116)" stroke-width="1"/>
<circle cx="1079.6" cy="336.4" r="5.94" fill="rgb(243,210,161)" stroke="rgb(235,183,116)" stroke-width="1"/>
<circle cx="1452.2" cy="479.5" r="5.94" fill="rgb(243,210,161)" stroke="rgb(235,183,116)" stroke-width="1"/>
<circle cx="1577.0" cy="447.7" r="5.94" fill="rgb(243,210,161)" stroke="rgb(235,183,116)" stroke-width="1"/>
<circle cx="1155.7" cy="579.4" r="5.94" fill="rgb(243,210,161)" stroke="rgb(235,183,116)" stroke-width="1"/>
<circle cx="1404.1" cy="635.5" r="5.94" fill="rgb(243,210,161)" stroke="rgb(235,183,116)" stroke-width="1"/>
<circle cx="1335.0" cy="290.7" r="5.97" fill="rgb(242,202,146)" stroke="rgb(233,175,104)" stroke-width="1"/>
<circle cx="1362.8" cy="364.2" r="5.97" fill="rgb(242,202,146)" stroke="rgb(233,175,104)" stroke-width="1"/>
<circle cx="1418.4" cy="347.3" r="5.97" fill="rgb(242,202,146)" stroke="rgb(233,175,104)" stroke-width="1"/>
<circle cx="1273.4" cy="312.5" r="5.97" fill="rgb(242,202,146)" stroke="rgb(233,175,104)" stroke-width="1"/>
<circle cx="1244.6" cy="336.4" r="5.97" fill="rgb(242,202,146)" stroke="rgb(233,175,104)" stroke-width="1"/>
<circle cx="1231.6" cy="400.0" r="5.97" fill="rgb(242,202,146)" stroke="rgb(233,175,104)" stroke-width="1"/>
<circle cx="1293.7" cy="419.8" r="5.97" fill="rgb(242,202,146)" stroke="rgb(233,175,104)" stroke-width="1"/>
<circle cx="1334.0" cy="435.7" r="5.97" fill="rgb(242,202,146)" stroke="rgb(233,175,104)" stroke-width="1"/>
<circle cx="1237.6" cy="436.7" r="5.97" fill="rgb(242,202,146)" stroke="rgb(233,175,104)" stroke-width="1"/>
<circle cx="1189.9" cy="455.6" r="5.97" fill="rgb(242,202,146)" stroke="rgb(233,175,104)" stroke-width="1"/>
<circle cx="1321.1" cy="492.4" r="5.97" fill="rgb(242,202,146)" stroke="rgb(233,175,104)" stroke-width="1"/>
<circle cx="1314.1" cy="543.1" r="5.97" fill="rgb(242,202,146)" stroke="rgb(233,175,104)" stroke-width="1"/>
<circle cx="1369.7" cy="407.9" r="5.97" fill="rgb(242,202,146)" stroke="rgb(233,175,104)" stroke-width="1"/>
<circle cx="1411.5" cy="447.7" r="5.97" fill="rgb(242,202,146)" stroke="rgb(233,175,104)" stroke-width="1"/>
<circle cx="1203.8" cy="304.6" r="6.00" fill="rgb(241,195,132)" stroke="rgb(231,167,92)" stroke-width="1"/>
<circle cx="1321.1" cy="348.3" r="6.00" fill="rgb(241,195,132)" stroke="rgb(231,167,92)" stroke-width="1"/>
<circle cx="1286.7" cy="376.1" r="6.00" fill="rgb(241,195,132)" stroke="rgb(231,167,92)" stroke-width="1"/>
<circle cx="1286.7" cy="479.5" r="6.00" fill="rgb(241,195,132)" stroke="rgb(231,167,92)" stroke-width="1"/>
<circle cx="1155.7" cy="635.1" r="6.00" fill="rgb(241,195,132)" stroke="rgb(231,167,92)" stroke-width="1"/>
<circle cx="1452.2" cy="663.3" r="6.00" fill="rgb(241,195,132)" stroke="rgb(231,167,92)" stroke-width="1"/>
<circle cx="1203.8" cy="121.3" r="6.03" fill="rgb(241,188,119)" stroke="rgb(229,159,80)" stroke-width="1"/>
<circle cx="1597.3" cy="515.2" r="6.06" fill="rgb(240,182,110)" stroke="rgb(227,152,69)" stroke-width="1"/>
<circle cx="1500.9" cy="149.0" r="6.10" fill="rgb(240,177,102)" stroke="rgb(226,145,59)" stroke-width="1"/>
<circle cx="1059.1" cy="268.8" r="6.10" fill="rgb(240,177,102)" stroke="rgb(226,145,59)" stroke-width="1"/>
<circle cx="1335.4" cy="252.9" r="6.35" fill="rgb(238,142,42)" stroke="rgb(209,125,37)" stroke-width="1"/>
<circle cx="1335.4" cy="268.8" r="6.35" fill="rgb(238,142,42)" stroke="rgb(209,125,37)" stroke-width="1"/>
<circle cx="1362.8" cy="268.8" r="6.35" fill="rgb(238,142,42)" stroke="rgb(209,125,37)" stroke-width="1"/>
<circle cx="1383.7" cy="280.7" r="6.35" fill="rgb(238,142,42)" stroke="rgb(209,125,37)" stroke-width="1"/>
<circle cx="1404.1" cy="276.7" r="6.35" fill="rgb(238,142,42)" stroke="rgb(209,125,37)" stroke-width="1"/>
<circle cx="1418.0" cy="252.9" r="6.35" fill="rgb(238,142,42)" stroke="rgb(209,125,37)" stroke-width="1"/>
<circle cx="1438.3" cy="241.0" r="6.35" fill="rgb(238,142,42)" stroke="rgb(209,125,37)" stroke-width="1"/>
<circle cx="1480.1" cy="280.7" r="6.35" fill="rgb(238,142,42)" stroke="rgb(209,125,37)" stroke-width="1"/>
<circle cx="1466.1" cy="304.6" r="6.35" fill="rgb(238,142,42)" stroke="rgb(209,125,37)" stroke-width="1"/>
<circle cx="1445.7" cy="316.5" r="6.35" fill="rgb(238,142,42)" stroke="rgb(209,125,37)" stroke-width="1"/>
<circle cx="1452.2" cy="328.4" r="6.35" fill="rgb(238,142,42)" stroke="rgb(209,125,37)" stroke-width="1"/>
<circle cx="1438.7" cy="336.4" r="6.35" fill="rgb(238,142,42)" stroke="rgb(209,125,37)" stroke-width="1"/>
<circle cx="1341.9" cy="336.4" r="6.35" fill="rgb(238,142,42)" stroke="rgb(209,125,37)" stroke-width="1"/>
<circle cx="1369.7" cy="336.4" r="6.35" fill="rgb(238,142,42)" stroke="rgb(209,125,37)" stroke-width="1"/>
<circle cx="1369.7" cy="352.3" r="6.35" fill="rgb(238,142,42)" stroke="rgb(209,125,37)" stroke-width="1"/>
<circle cx="1383.7" cy="352.3" r="6.35" fill="rgb(238,142,42)" stroke="rgb(209,125,37)" stroke-width="1"/>
<circle cx="1383.7" cy="376.1" r="6.35" fill="rgb(238,142,42)" stroke="rgb(209,125,37)" stroke-width="1"/>
<circle cx="1452.2" cy="360.2" r="6.35" fill="rgb(238,142,42)" stroke="rgb(209,125,37)" stroke-width="1"/>
<circle cx="1452.2" cy="384.1" r="6.35" fill="rgb(238,142,42)" stroke="rgb(209,125,37)" stroke-width="1"/>
<circle cx="1466.1" cy="384.1" r="6.35" fill="rgb(238,142,42)" stroke="rgb(209,125,37)" stroke-width="1"/>
<circle cx="1514.8" cy="244.3" r="6.35" fill="rgb(238,142,42)" stroke="rgb(209,125,37)" stroke-width="1"/>
<circle cx="1597.3" cy="268.8" r="6.35" fill="rgb(238,142,42)" stroke="rgb(209,125,37)" stroke-width="1"/>
<circle cx="1645.5" cy="256.9" r="6.35" fill="rgb(238,142,42)" stroke="rgb(209,125,37)" stroke-width="1"/>
<circle cx="1500.9" cy="276.7" r="6.35" fill="rgb(238,142,42)" stroke="rgb(209,125,37)" stroke-width="1"/>
<circle cx="1521.4" cy="288.7" r="6.35" fill="rgb(238,142,42)" stroke="rgb(209,125,37)" stroke-width="1"/>
<circle cx="1500.9" cy="300.6" r="6.35" fill="rgb(238,142,42)" stroke="rgb(209,125,37)" stroke-width="1"/>
<circle cx="1549.6" cy="304.6" r="6.35" fill="rgb(238,142,42)" stroke="rgb(209,125,37)" stroke-width="1"/>
<circle cx="1563.1" cy="304.6" r="6.35" fill="rgb(238,142,42)" stroke="rgb(209,125,37)" stroke-width="1"/>
<circle cx="1563.1" cy="328.4" r="6.35" fill="rgb(238,142,42)" stroke="rgb(209,125,37)" stroke-width="1"/>
<circle cx="1584.0" cy="324.5" r="6.35" fill="rgb(238,142,42)" stroke="rgb(209,125,37)" stroke-width="1"/>
<circle cx="1632.1" cy="312.5" r="6.35" fill="rgb(238,142,42)" stroke="rgb(209,125,37)" stroke-width="1"/>
<circle cx="1563.1" cy="360.2" r="6.35" fill="rgb(238,142,42)" stroke="rgb(209,125,37)" stroke-width="1"/>
<circle cx="1569.9" cy="372.2" r="6.35" fill="rgb(238,142,42)" stroke="rgb(209,125,37)" stroke-width="1"/>
<circle cx="1625.1" cy="364.2" r="6.35" fill="rgb(238,142,42)" stroke="rgb(209,125,37)" stroke-width="1"/>
<circle cx="1521.4" cy="384.1" r="6.35" fill="rgb(238,142,42)" stroke="rgb(209,125,37)" stroke-width="1"/>
<circle cx="1549.2" cy="384.1" r="6.35" fill="rgb(238,142,42)" stroke="rgb(209,125,37)" stroke-width="1"/>
<circle cx="1355.8" cy="97.3" r="6.35" fill="rgb(238,142,42)" stroke="rgb(209,125,37)" stroke-width="1"/>
<circle cx="1411.1" cy="89.3" r="6.35" fill="rgb(238,142,42)" stroke="rgb(209,125,37)" stroke-width="1"/>
<circle cx="1452.2" cy="121.1" r="6.35" fill="rgb(238,142,42)" stroke="rgb(209,125,37)" stroke-width="1"/>
<circle cx="1397.6" cy="137.0" r="6.35" fill="rgb(238,142,42)" stroke="rgb(209,125,37)" stroke-width="1"/>
<circle cx="1369.7" cy="145.0" r="6.35" fill="rgb(238,142,42)" stroke="rgb(209,125,37)" stroke-width="1"/>
<circle cx="1390.6" cy="156.9" r="6.35" fill="rgb(238,142,42)" stroke="rgb(209,125,37)" stroke-width="1"/>
<circle cx="1335.4" cy="173.0" r="6.35" fill="rgb(238,142,42)" stroke="rgb(209,125,37)" stroke-width="1"/>
<circle cx="1418.0" cy="173.0" r="6.35" fill="rgb(238,142,42)" stroke="rgb(209,125,37)" stroke-width="1"/>
<circle cx="1431.8" cy="173.0" r="6.35" fill="rgb(238,142,42)" stroke="rgb(209,125,37)" stroke-width="1"/>
<circle cx="1335.4" cy="196.9" r="6.35" fill="rgb(238,142,42)" stroke="rgb(209,125,37)" stroke-width="1"/>
<circle cx="1431.8" cy="196.9" r="6.35" fill="rgb(238,142,42)" stroke="rgb(209,125,37)" stroke-width="1"/>
<circle cx="1473.1" cy="204.8" r="6.35" fill="rgb(238,142,42)" stroke="rgb(209,125,37)" stroke-width="1"/>
<circle cx="1418.0" cy="220.7" r="6.35" fill="rgb(238,142,42)" stroke="rgb(209,125,37)" stroke-width="1"/>
<circle cx="1431.8" cy="228.7" r="6.35" fill="rgb(238,142,42)" stroke="rgb(209,125,37)" stroke-width="1"/>
<circle cx="1465.0" cy="73.5" r="6.35" fill="rgb(238,142,42)" stroke="rgb(209,125,37)" stroke-width="1"/>
<circle cx="1549.2" cy="89.3" r="6.35" fill="rgb(238,142,42)" stroke="rgb(209,125,37)" stroke-width="1"/>
<circle cx="1569.9" cy="109.2" r="6.35" fill="rgb(238,142,42)" stroke="rgb(209,125,37)" stroke-width="1"/>
<circle cx="1514.8" cy="125.1" r="6.35" fill="rgb(238,142,42)" stroke="rgb(209,125,37)" stroke-width="1"/>
<circle cx="1494.0" cy="137.0" r="6.35" fill="rgb(238,142,42)" stroke="rgb(209,125,37)" stroke-width="1"/>
<circle cx="1535.3" cy="145.0" r="6.35" fill="rgb(238,142,42)" stroke="rgb(209,125,37)" stroke-width="1"/>
<circle cx="1611.2" cy="149.0" r="6.35" fill="rgb(238,142,42)" stroke="rgb(209,125,37)" stroke-width="1"/>
<circle cx="1632.1" cy="168.8" r="6.35" fill="rgb(238,142,42)" stroke="rgb(209,125,37)" stroke-width="1"/>
<circle cx="1645.5" cy="112.8" r="6.35" fill="rgb(238,142,42)" stroke="rgb(209,125,37)" stroke-width="1"/>
<circle cx="1500.9" cy="180.8" r="6.35" fill="rgb(238,142,42)" stroke="rgb(209,125,37)" stroke-width="1"/>
<circle cx="1577.0" cy="184.7" r="6.35" fill="rgb(238,142,42)" stroke="rgb(209,125,37)" stroke-width="1"/>
<circle cx="1597.3" cy="204.6" r="6.35" fill="rgb(238,142,42)" stroke="rgb(209,125,37)" stroke-width="1"/>
<circle cx="1542.1" cy="220.5" r="6.35" fill="rgb(238,142,42)" stroke="rgb(209,125,37)" stroke-width="1"/>
<circle cx="1563.1" cy="232.0" r="6.35" fill="rgb(238,142,42)" stroke="rgb(209,125,37)" stroke-width="1"/>
<circle cx="1605.0" cy="73.5" r="6.35" fill="rgb(238,142,42)" stroke="rgb(209,125,37)" stroke-width="1"/>
<circle cx="1024.9" cy="88.9" r="6.35" fill="rgb(238,142,42)" stroke="rgb(209,125,37)" stroke-width="1"/>
<circle cx="1114.4" cy="109.8" r="6.35" fill="rgb(238,142,42)" stroke="rgb(209,125,37)" stroke-width="1"/>
<circle cx="1121.3" cy="113.8" r="6.35" fill="rgb(238,142,42)" stroke="rgb(209,125,37)" stroke-width="1"/>
<circle cx="1059.1" cy="125.3" r="6.35" fill="rgb(238,142,42)" stroke="rgb(209,125,37)" stroke-width="1"/>
<circle cx="1011.4" cy="145.6" r="6.35" fill="rgb(238,142,42)" stroke="rgb(209,125,37)" stroke-width="1"/>
<circle cx="1155.1" cy="149.6" r="6.35" fill="rgb(238,142,42)" stroke="rgb(209,125,37)" stroke-width="1"/>
<circle cx="1107.4" cy="169.0" r="6.35" fill="rgb(238,142,42)" stroke="rgb(209,125,37)" stroke-width="1"/>
<circle cx="1044.8" cy="180.4" r="6.35" fill="rgb(238,142,42)" stroke="rgb(209,125,37)" stroke-width="1"/>
<circle cx="1051.8" cy="185.3" r="6.35" fill="rgb(238,142,42)" stroke="rgb(209,125,37)" stroke-width="1"/>
<circle cx="1086.5" cy="220.7" r="6.35" fill="rgb(238,142,42)" stroke="rgb(209,125,37)" stroke-width="1"/>
<circle cx="1141.8" cy="204.8" r="6.35" fill="rgb(238,142,42)" stroke="rgb(209,125,37)" stroke-width="1"/>
<circle cx="1155.7" cy="220.7" r="6.35" fill="rgb(238,142,42)" stroke="rgb(209,125,37)" stroke-width="1"/>
<circle cx="1135.2" cy="232.6" r="6.35" fill="rgb(238,142,42)" stroke="rgb(209,125,37)" stroke-width="1"/>
<circle cx="1078.6" cy="73.5" r="6.35" fill="rgb(238,142,42)" stroke="rgb(209,125,37)" stroke-width="1"/>
<circle cx="1217.7" cy="89.3" r="6.35" fill="rgb(238,142,42)" stroke="rgb(209,125,37)" stroke-width="1"/>
<circle cx="1189.9" cy="97.3" r="6.35" fill="rgb(238,142,42)" stroke="rgb(209,125,37)" stroke-width="1"/>
<circle cx="1300.2" cy="97.3" r="6.35" fill="rgb(238,142,42)" stroke="rgb(209,125,37)" stroke-width="1"/>
<circle cx="1272.4" cy="73.5" r="6.35" fill="rgb(238,142,42)" stroke="rgb(209,125,37)" stroke-width="1"/>
<circle cx="1190.5" cy="120.7" r="6.35" fill="rgb(238,142,42)" stroke="rgb(209,125,37)" stroke-width="1"/>
<circle cx="1307.2" cy="109.4" r="6.35" fill="rgb(238,142,42)" stroke="rgb(209,125,37)" stroke-width="1"/>
<circle cx="1286.7" cy="121.3" r="6.35" fill="rgb(238,142,42)" stroke="rgb(209,125,37)" stroke-width="1"/>
<circle cx="1231.6" cy="137.2" r="6.35" fill="rgb(238,142,42)" stroke="rgb(209,125,37)" stroke-width="1"/>
<circle cx="1293.3" cy="157.1" r="6.35" fill="rgb(238,142,42)" stroke="rgb(209,125,37)" stroke-width="1"/>
<circle cx="1238.6" cy="173.0" r="6.35" fill="rgb(238,142,42)" stroke="rgb(209,125,37)" stroke-width="1"/>
<circle cx="1314.5" cy="184.9" r="6.35" fill="rgb(238,142,42)" stroke="rgb(209,125,37)" stroke-width="1"/>
<circle cx="1321.1" cy="196.9" r="6.35" fill="rgb(238,142,42)" stroke="rgb(209,125,37)" stroke-width="1"/>
<circle cx="1307.8" cy="204.8" r="6.35" fill="rgb(238,142,42)" stroke="rgb(209,125,37)" stroke-width="1"/>
<circle cx="1190.5" cy="192.9" r="6.35" fill="rgb(238,142,42)" stroke="rgb(209,125,37)" stroke-width="1"/>
<circle cx="1210.8" cy="205.2" r="6.35" fill="rgb(238,142,42)" stroke="rgb(209,125,37)" stroke-width="1"/>
<circle cx="1238.6" cy="220.7" r="6.35" fill="rgb(238,142,42)" stroke="rgb(209,125,37)" stroke-width="1"/>
<circle cx="1252.5" cy="220.7" r="6.35" fill="rgb(238,142,42)" stroke="rgb(209,125,37)" stroke-width="1"/>
<circle cx="1224.7" cy="228.7" r="6.35" fill="rgb(238,142,42)" stroke="rgb(209,125,37)" stroke-width="1"/>
<circle cx="1321.1" cy="228.7" r="6.35" fill="rgb(238,142,42)" stroke="rgb(209,125,37)" stroke-width="1"/>
<circle cx="1031.3" cy="252.9" r="6.35" fill="rgb(238,142,42)" stroke="rgb(209,125,37)" stroke-width="1"/>
<circle cx="1072.6" cy="268.8" r="6.35" fill="rgb(238,142,42)" stroke="rgb(209,125,37)" stroke-width="1"/>
<circle cx="1024.3" cy="280.7" r="6.35" fill="rgb(238,142,42)" stroke="rgb(209,125,37)" stroke-width="1"/>
<circle cx="1072.6" cy="292.6" r="6.35" fill="rgb(238,142,42)" stroke="rgb(209,125,37)" stroke-width="1"/>
<circle cx="1141.8" cy="244.0" r="6.35" fill="rgb(238,142,42)" stroke="rgb(209,125,37)" stroke-width="1"/>
<circle cx="1141.8" cy="276.7" r="6.35" fill="rgb(238,142,42)" stroke="rgb(209,125,37)" stroke-width="1"/>
<circle cx="1162.5" cy="288.7" r="6.35" fill="rgb(238,142,42)" stroke="rgb(209,125,37)" stroke-width="1"/>
<circle cx="1141.8" cy="300.6" r="6.35" fill="rgb(238,142,42)" stroke="rgb(209,125,37)" stroke-width="1"/>
<circle cx="1155.7" cy="300.6" r="6.35" fill="rgb(238,142,42)" stroke="rgb(209,125,37)" stroke-width="1"/>
<circle cx="1155.7" cy="316.5" r="6.35" fill="rgb(238,142,42)" stroke="rgb(209,125,37)" stroke-width="1"/>
<circle cx="1106.4" cy="304.6" r="6.35" fill="rgb(238,142,42)" stroke="rgb(209,125,37)" stroke-width="1"/>
<circle cx="1059.1" cy="348.3" r="6.35" fill="rgb(238,142,42)" stroke="rgb(209,125,37)" stroke-width="1"/>
<circle cx="1093.5" cy="360.2" r="6.35" fill="rgb(238,142,42)" stroke="rgb(209,125,37)" stroke-width="1"/>
<circle cx="1011.4" cy="336.4" r="6.35" fill="rgb(238,142,42)" stroke="rgb(209,125,37)" stroke-width="1"/>
<circle cx="1024.3" cy="376.1" r="6.35" fill="rgb(238,142,42)" stroke="rgb(209,125,37)" stroke-width="1"/>
<circle cx="1141.8" cy="372.2" r="6.35" fill="rgb(238,142,42)" stroke="rgb(209,125,37)" stroke-width="1"/>
<circle cx="1162.5" cy="384.1" r="6.35" fill="rgb(238,142,42)" stroke="rgb(209,125,37)" stroke-width="1"/>
<circle cx="1252.5" cy="244.9" r="6.35" fill="rgb(238,142,42)" stroke="rgb(209,125,37)" stroke-width="1"/>
<circle cx="1321.1" cy="252.9" r="6.35" fill="rgb(238,142,42)" stroke="rgb(209,125,37)" stroke-width="1"/>
<circle cx="1266.4" cy="268.8" r="6.35" fill="rgb(238,142,42)" stroke="rgb(209,125,37)" stroke-width="1"/>
<circle cx="1252.5" cy="276.7" r="6.35" fill="rgb(238,142,42)" stroke="rgb(209,125,37)" stroke-width="1"/>
<circle cx="1259.5" cy="288.7" r="6.35" fill="rgb(238,142,42)" stroke="rgb(209,125,37)" stroke-width="1"/>
<circle cx="1238.6" cy="300.6" r="6.35" fill="rgb(238,142,42)" stroke="rgb(209,125,37)" stroke-width="1"/>
<circle cx="1183.3" cy="316.5" r="6.35" fill="rgb(238,142,42)" stroke="rgb(209,125,37)" stroke-width="1"/>
<circle cx="1203.8" cy="328.4" r="6.35" fill="rgb(238,142,42)" stroke="rgb(209,125,37)" stroke-width="1"/>
<circle cx="1224.7" cy="324.5" r="6.35" fill="rgb(238,142,42)" stroke="rgb(209,125,37)" stroke-width="1"/>
<circle cx="1300.2" cy="328.4" r="6.35" fill="rgb(238,142,42)" stroke="rgb(209,125,37)" stroke-width="1"/>
<circle cx="1321.1" cy="324.5" r="6.35" fill="rgb(238,142,42)" stroke="rgb(209,125,37)" stroke-width="1"/>
<circle cx="1314.1" cy="336.4" r="6.35" fill="rgb(238,142,42)" stroke="rgb(209,125,37)" stroke-width="1"/>
<circle cx="1286.7" cy="352.3" r="6.35" fill="rgb(238,142,42)" stroke="rgb(209,125,37)" stroke-width="1"/>
<circle cx="1266.4" cy="364.2" r="6.35" fill="rgb(238,142,42)" stroke="rgb(209,125,37)" stroke-width="1"/>
<circle cx="1272.4" cy="376.1" r="6.35" fill="rgb(238,142,42)" stroke="rgb(209,125,37)" stroke-width="1"/>
<circle cx="1259.5" cy="384.1" r="6.35" fill="rgb(238,142,42)" stroke="rgb(209,125,37)" stroke-width="1"/>
<circle cx="1189.9" cy="384.1" r="6.35" fill="rgb(238,142,42)" stroke="rgb(209,125,37)" stroke-width="1"/>
<circle cx="1107.0" cy="399.5" r="6.35" fill="rgb(238,142,42)" stroke="rgb(209,125,37)" stroke-width="1"/>
<circle cx="1134.8" cy="399.5" r="6.35" fill="rgb(238,142,42)" stroke="rgb(209,125,37)" stroke-width="1"/>
<circle cx="1031.3" cy="419.8" r="6.35" fill="rgb(238,142,42)" stroke="rgb(209,125,37)" stroke-width="1"/>
<circle cx="1086.5" cy="411.9" r="6.35" fill="rgb(238,142,42)" stroke="rgb(209,125,37)" stroke-width="1"/>
<circle cx="1093.5" cy="423.8" r="6.35" fill="rgb(238,142,42)" stroke="rgb(209,125,37)" stroke-width="1"/>
<circle cx="1072.6" cy="459.6" r="6.35" fill="rgb(238,142,42)" stroke="rgb(209,125,37)" stroke-width="1"/>
<circle cx="1093.5" cy="455.6" r="6.35" fill="rgb(238,142,42)" stroke="rgb(209,125,37)" stroke-width="1"/>
<circle cx="1024.3" cy="471.5" r="6.35" fill="rgb(238,142,42)" stroke="rgb(209,125,37)" stroke-width="1"/>
<circle cx="1093.5" cy="479.5" r="6.35" fill="rgb(238,142,42)" stroke="rgb(209,125,37)" stroke-width="1"/>
<circle cx="1106.4" cy="479.5" r="6.35" fill="rgb(238,142,42)" stroke="rgb(209,125,37)" stroke-width="1"/>
<circle cx="1155.7" cy="483.4" r="6.35" fill="rgb(238,142,42)" stroke="rgb(209,125,37)" stroke-width="1"/>
<circle cx="1134.6" cy="495.4" r="6.35" fill="rgb(238,142,42)" stroke="rgb(209,125,37)" stroke-width="1"/>
<circle cx="1155.7" cy="507.3" r="6.35" fill="rgb(238,142,42)" stroke="rgb(209,125,37)" stroke-width="1"/>
<circle cx="1174.0" cy="503.3" r="6.35" fill="rgb(238,142,42)" stroke="rgb(209,125,37)" stroke-width="1"/>
<circle cx="1059.1" cy="515.2" r="6.35" fill="rgb(238,142,42)" stroke="rgb(209,125,37)" stroke-width="1"/>
<circle cx="1011.4" cy="527.2" r="6.35" fill="rgb(238,142,42)" stroke="rgb(209,125,37)" stroke-width="1"/>
<circle cx="1141.8" cy="540.1" r="6.35" fill="rgb(238,142,42)" stroke="rgb(209,125,37)" stroke-width="1"/>
<circle cx="1093.5" cy="551.0" r="6.35" fill="rgb(238,142,42)" stroke="rgb(209,125,37)" stroke-width="1"/>
<circle cx="1189.9" cy="399.5" r="6.35" fill="rgb(238,142,42)" stroke="rgb(209,125,37)" stroke-width="1"/>
<circle cx="1203.8" cy="399.5" r="6.35" fill="rgb(238,142,42)" stroke="rgb(209,125,37)" stroke-width="1"/>
<circle cx="1203.8" cy="423.8" r="6.35" fill="rgb(238,142,42)" stroke="rgb(209,125,37)" stroke-width="1"/>
<circle cx="1273.0" cy="407.9" r="6.35" fill="rgb(238,142,42)" stroke="rgb(209,125,37)" stroke-width="1"/>
<circle cx="1273.0" cy="431.8" r="6.35" fill="rgb(238,142,42)" stroke="rgb(209,125,37)" stroke-width="1"/>
<circle cx="1286.7" cy="431.8" r="6.35" fill="rgb(238,142,42)" stroke="rgb(209,125,37)" stroke-width="1"/>
<circle cx="1217.7" cy="447.7" r="6.35" fill="rgb(238,142,42)" stroke="rgb(209,125,37)" stroke-width="1"/>
<circle cx="1203.8" cy="455.6" r="6.35" fill="rgb(238,142,42)" stroke="rgb(209,125,37)" stroke-width="1"/>
<circle cx="1210.8" cy="467.9" r="6.35" fill="rgb(238,142,42)" stroke="rgb(209,125,37)" stroke-width="1"/>
<circle cx="1286.7" cy="447.7" r="6.35" fill="rgb(238,142,42)" stroke="rgb(209,125,37)" stroke-width="1"/>
<circle cx="1314.1" cy="447.7" r="6.35" fill="rgb(238,142,42)" stroke="rgb(209,125,37)" stroke-width="1"/>
<circle cx="1334.0" cy="459.6" r="6.35" fill="rgb(238,142,42)" stroke="rgb(209,125,37)" stroke-width="1"/>
<circle cx="1189.9" cy="479.9" r="6.35" fill="rgb(238,142,42)" stroke="rgb(209,125,37)" stroke-width="1"/>
<circle cx="1252.5" cy="508.3" r="6.35" fill="rgb(238,142,42)" stroke="rgb(209,125,37)" stroke-width="1"/>
<circle cx="1273.4" cy="504.3" r="6.35" fill="rgb(238,142,42)" stroke="rgb(209,125,37)" stroke-width="1"/>
<circle cx="1293.7" cy="515.2" r="6.35" fill="rgb(238,142,42)" stroke="rgb(209,125,37)" stroke-width="1"/>
<circle cx="1321.1" cy="515.2" r="6.35" fill="rgb(238,142,42)" stroke="rgb(209,125,37)" stroke-width="1"/>
<circle cx="1321.1" cy="531.2" r="6.35" fill="rgb(238,142,42)" stroke="rgb(209,125,37)" stroke-width="1"/>
<circle cx="1334.0" cy="531.2" r="6.35" fill="rgb(238,142,42)" stroke="rgb(209,125,37)" stroke-width="1"/>
<circle cx="1238.6" cy="531.2" r="6.35" fill="rgb(238,142,42)" stroke="rgb(209,125,37)" stroke-width="1"/>
<circle cx="1217.7" cy="543.1" r="6.35" fill="rgb(238,142,42)" stroke="rgb(209,125,37)" stroke-width="1"/>
<circle cx="1224.7" cy="554.5" r="6.35" fill="rgb(238,142,42)" stroke="rgb(209,125,37)" stroke-width="1"/>
<circle cx="1397.6" cy="400.0" r="6.35" fill="rgb(238,142,42)" stroke="rgb(209,125,37)" stroke-width="1"/>
<circle cx="1383.7" cy="407.9" r="6.35" fill="rgb(238,142,42)" stroke="rgb(209,125,37)" stroke-width="1"/>
<circle cx="1390.6" cy="419.8" r="6.35" fill="rgb(238,142,42)" stroke="rgb(209,125,37)" stroke-width="1"/>
<circle cx="1369.7" cy="431.8" r="6.35" fill="rgb(238,142,42)" stroke="rgb(209,125,37)" stroke-width="1"/>
<circle cx="1341.9" cy="447.7" r="6.35" fill="rgb(238,142,42)" stroke="rgb(209,125,37)" stroke-width="1"/>
<circle cx="1355.8" cy="455.6" r="6.35" fill="rgb(238,142,42)" stroke="rgb(209,125,37)" stroke-width="1"/>
<circle cx="1466.1" cy="400.0" r="6.35" fill="rgb(238,142,42)" stroke="rgb(209,125,37)" stroke-width="1"/>
<circle cx="1431.4" cy="459.6" r="6.35" fill="rgb(238,142,42)" stroke="rgb(209,125,37)" stroke-width="1"/>
<circle cx="1452.2" cy="455.6" r="6.35" fill="rgb(238,142,42)" stroke="rgb(209,125,37)" stroke-width="1"/>
<circle cx="1473.1" cy="467.5" r="6.35" fill="rgb(238,142,42)" stroke="rgb(209,125,37)" stroke-width="1"/>
<circle cx="1417.4" cy="483.4" r="6.35" fill="rgb(238,142,42)" stroke="rgb(209,125,37)" stroke-width="1"/>
<circle cx="1397.6" cy="495.4" r="6.35" fill="rgb(238,142,42)" stroke="rgb(209,125,37)" stroke-width="1"/>
<circle cx="1404.1" cy="507.3" r="6.35" fill="rgb(238,142,42)" stroke="rgb(209,125,37)" stroke-width="1"/>
<circle cx="1390.6" cy="515.2" r="6.35" fill="rgb(238,142,42)" stroke="rgb(209,125,37)" stroke-width="1"/>
<circle cx="1404.1" cy="539.1" r="6.35" fill="rgb(238,142,42)" stroke="rgb(209,125,37)" stroke-width="1"/>
<circle cx="1431.4" cy="554.5" r="6.35" fill="rgb(238,142,42)" stroke="rgb(209,125,37)" stroke-width="1"/>
<circle cx="1335.4" cy="554.5" r="6.35" fill="rgb(238,142,42)" stroke="rgb(209,125,37)" stroke-width="1"/>
<circle cx="1494.0" cy="399.0" r="6.35" fill="rgb(238,142,42)" stroke="rgb(209,125,37)" stroke-width="1"/>
<circle cx="1514.8" cy="411.9" r="6.35" fill="rgb(238,142,42)" stroke="rgb(209,125,37)" stroke-width="1"/>
<circle cx="1563.1" cy="423.8" r="6.35" fill="rgb(238,142,42)" stroke="rgb(209,125,37)" stroke-width="1"/>
<circle cx="1632.1" cy="407.9" r="6.35" fill="rgb(238,142,42)" stroke="rgb(209,125,37)" stroke-width="1"/>
<circle cx="1597.3" cy="435.7" r="6.35" fill="rgb(238,142,42)" stroke="rgb(209,125,37)" stroke-width="1"/>
<circle cx="1645.5" cy="447.7" r="6.35" fill="rgb(238,142,42)" stroke="rgb(209,125,37)" stroke-width="1"/>
<circle cx="1500.9" cy="467.5" r="6.35" fill="rgb(238,142,42)" stroke="rgb(209,125,37)" stroke-width="1"/>
<circle cx="1500.9" cy="483.4" r="6.35" fill="rgb(238,142,42)" stroke="rgb(209,125,37)" stroke-width="1"/>
<circle cx="1514.8" cy="483.4" r="6.35" fill="rgb(238,142,42)" stroke="rgb(209,125,37)" stroke-width="1"/>
<circle cx="1494.0" cy="495.4" r="6.35" fill="rgb(238,142,42)" stroke="rgb(209,125,37)" stroke-width="1"/>
<circle cx="1549.6" cy="479.5" r="6.35" fill="rgb(238,142,42)" stroke="rgb(209,125,37)" stroke-width="1"/>
<circle cx="1583.4" cy="491.4" r="6.35" fill="rgb(238,142,42)" stroke="rgb(209,125,37)" stroke-width="1"/>
<circle cx="1514.8" cy="507.3" r="6.35" fill="rgb(238,142,42)" stroke="rgb(209,125,37)" stroke-width="1"/>
<circle cx="1632.1" cy="503.3" r="6.35" fill="rgb(238,142,42)" stroke="rgb(209,125,37)" stroke-width="1"/>
<circle cx="1583.4" cy="515.2" r="6.35" fill="rgb(238,142,42)" stroke="rgb(209,125,37)" stroke-width="1"/>
<circle cx="1625.1" cy="531.2" r="6.35" fill="rgb(238,142,42)" stroke="rgb(209,125,37)" stroke-width="1"/>
<circle cx="1514.8" cy="540.1" r="6.35" fill="rgb(238,142,42)" stroke="rgb(209,125,37)" stroke-width="1"/>
<circle cx="1521.4" cy="552.0" r="6.35" fill="rgb(238,142,42)" stroke="rgb(209,125,37)" stroke-width="1"/>
<circle cx="1114.4" cy="563.5" r="6.35" fill="rgb(238,142,42)" stroke="rgb(209,125,37)" stroke-width="1"/>
<circle cx="1059.1" cy="579.4" r="6.35" fill="rgb(238,142,42)" stroke="rgb(209,125,37)" stroke-width="1"/>
<circle cx="1080.0" cy="599.7" r="6.35" fill="rgb(238,142,42)" stroke="rgb(209,125,37)" stroke-width="1"/>
<circle cx="1155.7" cy="603.3" r="6.35" fill="rgb(238,142,42)" stroke="rgb(209,125,37)" stroke-width="1"/>
<circle cx="1024.3" cy="615.6" r="6.35" fill="rgb(238,142,42)" stroke="rgb(209,125,37)" stroke-width="1"/>
<circle cx="1045.2" cy="635.5" r="6.35" fill="rgb(238,142,42)" stroke="rgb(209,125,37)" stroke-width="1"/>
<circle cx="1121.3" cy="639.4" r="6.35" fill="rgb(238,142,42)" stroke="rgb(209,125,37)" stroke-width="1"/>
<circle cx="1162.5" cy="647.4" r="6.35" fill="rgb(238,142,42)" stroke="rgb(209,125,37)" stroke-width="1"/>
<circle cx="1141.8" cy="659.3" r="6.35" fill="rgb(238,142,42)" stroke="rgb(209,125,37)" stroke-width="1"/>
<circle cx="1011.4" cy="670.3" r="6.35" fill="rgb(238,142,42)" stroke="rgb(209,125,37)" stroke-width="1"/>
<circle cx="1086.5" cy="675.2" r="6.35" fill="rgb(238,142,42)" stroke="rgb(209,125,37)" stroke-width="1"/>
<circle cx="1107.4" cy="695.1" r="6.35" fill="rgb(238,142,42)" stroke="rgb(209,125,37)" stroke-width="1"/>
<circle cx="1051.8" cy="710.4" r="6.35" fill="rgb(238,142,42)" stroke="rgb(209,125,37)" stroke-width="1"/>
<circle cx="1238.6" cy="563.9" r="6.35" fill="rgb(238,142,42)" stroke="rgb(209,125,37)" stroke-width="1"/>
<circle cx="1182.9" cy="579.4" r="6.35" fill="rgb(238,142,42)" stroke="rgb(209,125,37)" stroke-width="1"/>
<circle cx="1224.7" cy="587.4" r="6.35" fill="rgb(238,142,42)" stroke="rgb(209,125,37)" stroke-width="1"/>
<circle cx="1321.1" cy="587.4" r="6.35" fill="rgb(238,142,42)" stroke="rgb(209,125,37)" stroke-width="1"/>
<circle cx="1334.0" cy="587.4" r="6.35" fill="rgb(238,142,42)" stroke="rgb(209,125,37)" stroke-width="1"/>
<circle cx="1224.7" cy="611.2" r="6.35" fill="rgb(238,142,42)" stroke="rgb(209,125,37)" stroke-width="1"/>
<circle cx="1238.6" cy="611.2" r="6.35" fill="rgb(238,142,42)" stroke="rgb(209,125,37)" stroke-width="1"/>
<circle cx="1321.1" cy="611.2" r="6.35" fill="rgb(238,142,42)" stroke="rgb(209,125,37)" stroke-width="1"/>
<circle cx="1266.0" cy="627.1" r="6.35" fill="rgb(238,142,42)" stroke="rgb(209,125,37)" stroke-width="1"/>
<circle cx="1286.7" cy="639.4" r="6.35" fill="rgb(238,142,42)" stroke="rgb(209,125,37)" stroke-width="1"/>
<circle cx="1259.5" cy="647.4" r="6.35" fill="rgb(238,142,42)" stroke="rgb(209,125,37)" stroke-width="1"/>
<circle cx="1203.8" cy="663.3" r="6.35" fill="rgb(238,142,42)" stroke="rgb(209,125,37)" stroke-width="1"/>
<circle cx="1245.5" cy="695.1" r="6.35" fill="rgb(238,142,42)" stroke="rgb(209,125,37)" stroke-width="1"/>
<circle cx="1300.2" cy="687.1" r="6.35" fill="rgb(238,142,42)" stroke="rgb(209,125,37)" stroke-width="1"/>
<circle cx="1189.9" cy="710.4" r="6.35" fill="rgb(238,142,42)" stroke="rgb(209,125,37)" stroke-width="1"/>
<circle cx="1404.1" cy="563.9" r="6.35" fill="rgb(238,142,42)" stroke="rgb(209,125,37)" stroke-width="1"/>
<circle cx="1418.0" cy="563.9" r="6.35" fill="rgb(238,142,42)" stroke="rgb(209,125,37)" stroke-width="1"/>
<circle cx="1348.9" cy="579.8" r="6.35" fill="rgb(238,142,42)" stroke="rgb(209,125,37)" stroke-width="1"/>
<circle cx="1341.9" cy="599.3" r="6.35" fill="rgb(238,142,42)" stroke="rgb(209,125,37)" stroke-width="1"/>
<circle cx="1445.3" cy="579.8" r="6.35" fill="rgb(238,142,42)" stroke="rgb(209,125,37)" stroke-width="1"/>
<circle cx="1466.1" cy="591.3" r="6.35" fill="rgb(238,142,42)" stroke="rgb(209,125,37)" stroke-width="1"/>
<circle cx="1418.0" cy="611.6" r="6.35" fill="rgb(238,142,42)" stroke="rgb(209,125,37)" stroke-width="1"/>
<circle cx="1362.8" cy="627.5" r="6.35" fill="rgb(238,142,42)" stroke="rgb(209,125,37)" stroke-width="1"/>
<circle cx="1425.0" cy="647.4" r="6.35" fill="rgb(238,142,42)" stroke="rgb(209,125,37)" stroke-width="1"/>
<circle cx="1369.7" cy="662.3" r="6.35" fill="rgb(238,142,42)" stroke="rgb(209,125,37)" stroke-width="1"/>
<circle cx="1348.9" cy="675.2" r="6.35" fill="rgb(238,142,42)" stroke="rgb(209,125,37)" stroke-width="1"/>
<circle cx="1355.8" cy="687.1" r="6.35" fill="rgb(238,142,42)" stroke="rgb(209,125,37)" stroke-width="1"/>
<circle cx="1466.1" cy="663.3" r="6.35" fill="rgb(238,142,42)" stroke="rgb(209,125,37)" stroke-width="1"/>
<circle cx="1466.1" cy="687.1" r="6.35" fill="rgb(238,142,42)" stroke="rgb(209,125,37)" stroke-width="1"/>
<circle cx="1438.3" cy="695.1" r="6.35" fill="rgb(238,142,42)" stroke="rgb(209,125,37)" stroke-width="1"/>
<circle cx="1383.7" cy="710.4" r="6.35" fill="rgb(238,142,42)" stroke="rgb(209,125,37)" stroke-width="1"/>
<circle cx="1500.9" cy="563.5" r="6.35" fill="rgb(238,142,42)" stroke="rgb(209,125,37)" stroke-width="1"/>
<circle cx="1514.8" cy="579.4" r="6.35" fill="rgb(238,142,42)" stroke="rgb(209,125,37)" stroke-width="1"/>
<circle cx="1569.9" cy="563.5" r="6.35" fill="rgb(238,142,42)" stroke="rgb(209,125,37)" stroke-width="1"/>
<circle cx="1604.3" cy="599.3" r="6.35" fill="rgb(238,142,42)" stroke="rgb(209,125,37)" stroke-width="1"/>
<circle cx="1611.2" cy="603.3" r="6.35" fill="rgb(238,142,42)" stroke="rgb(209,125,37)" stroke-width="1"/>
<circle cx="1549.2" cy="615.6" r="6.35" fill="rgb(238,142,42)" stroke="rgb(209,125,37)" stroke-width="1"/>
<circle cx="1500.9" cy="635.5" r="6.35" fill="rgb(238,142,42)" stroke="rgb(209,125,37)" stroke-width="1"/>
<circle cx="1645.5" cy="639.4" r="6.35" fill="rgb(238,142,42)" stroke="rgb(209,125,37)" stroke-width="1"/>
<circle cx="1597.3" cy="659.3" r="6.35" fill="rgb(238,142,42)" stroke="rgb(209,125,37)" stroke-width="1"/>
<circle cx="1535.3" cy="671.2" r="6.35" fill="rgb(238,142,42)" stroke="rgb(209,125,37)" stroke-width="1"/>
<circle cx="1542.1" cy="675.2" r="6.35" fill="rgb(238,142,42)" stroke="rgb(209,125,37)" stroke-width="1"/>
<circle cx="1632.1" cy="695.1" r="6.35" fill="rgb(238,142,42)" stroke="rgb(209,125,37)" stroke-width="1"/>
<circle cx="1576.5" cy="710.4" r="6.35" fill="rgb(238,142,42)" stroke="rgb(209,125,37)" stroke-width="1"/>
<g clip-path="url(#circb)">
<path d="M961.8 682.9L1037.7 758.8M1093.2 551.5L1169.1 627.4M989.6 579.3L1093.2 551.5M1169.1 627.4L1141.3 731.0M1045.1 372.0L1121.0 447.8M941.5 399.7L1045.1 372.0M1121.0 447.8L1093.2 551.5M997.0 192.5L1072.9 268.3M1072.9 268.3L1045.1 372.0M948.9 12.9L1024.8 88.8M1024.8 88.8L997.0 192.5M1272.8 599.6L1348.6 675.5M1169.1 627.4L1272.8 599.6M1348.6 675.5L1320.9 779.1M1224.7 420.1L1300.5 495.9M1121.0 447.8L1224.7 420.1M1300.5 495.9L1272.8 599.6M1176.6 240.6L1252.4 316.4M1072.9 268.3L1176.6 240.6M1252.4 316.4L1224.7 420.1M1128.5 61.0L1204.3 136.9M1024.8 88.8L1128.5 61.0M1204.3 136.9L1176.6 240.6M1452.3 647.7L1528.1 723.6M1348.6 675.5L1452.3 647.7M1404.2 468.2L1480.0 544.0M1300.5 495.9L1404.2 468.2M1480.0 544.0L1452.3 647.7M1356.1 288.7L1431.9 364.5M1252.4 316.4L1356.1 288.7M1431.9 364.5L1404.2 468.2M1308.0 109.1L1383.8 185.0M1204.3 136.9L1308.0 109.1M1383.8 185.0L1356.1 288.7M1335.7 5.5L1308.0 109.1M1631.8 695.8L1707.7 771.7M1528.1 723.6L1631.8 695.8M1583.7 516.3L1659.6 592.1M1480.0 544.0L1583.7 516.3M1659.6 592.1L1631.8 695.8M1535.6 336.8L1611.5 412.6M1431.9 364.5L1535.6 336.8M1611.5 412.6L1583.7 516.3M1487.5 157.2L1563.4 233.1M1383.8 185.0L1487.5 157.2M1563.4 233.1L1535.6 336.8M1515.3 53.6L1487.5 157.2M1611.5 412.6L1715.1 384.9M1563.4 233.1L1667.0 205.3M1618.9 25.8L1694.8 101.7" stroke="#e5251d" stroke-width="3.5" fill="none" stroke-linecap="projecting" stroke-linejoin="miter"/>
<path d="M1024.8 695.8L1128.5 723.6M948.9 771.7L1024.8 695.8M997.0 592.1L1024.8 695.8M1204.3 647.7L1308.0 675.5M1128.5 723.6L1204.3 647.7M1308.0 675.5L1335.7 779.1M1072.9 516.3L1176.6 544.0M997.0 592.1L1072.9 516.3M1176.6 544.0L1204.3 647.7M941.5 384.9L1045.1 412.6M1045.1 412.6L1072.9 516.3M1383.8 599.6L1487.5 627.4M1308.0 675.5L1383.8 599.6M1487.5 627.4L1515.3 731.0M1252.4 468.2L1356.1 495.9M1176.6 544.0L1252.4 468.2M1356.1 495.9L1383.8 599.6M1121.0 336.8L1224.7 364.5M1045.1 412.6L1121.0 336.8M1224.7 364.5L1252.4 468.2M989.6 205.3L1093.2 233.1M1093.2 233.1L1121.0 336.8M1618.9 758.8L1694.8 682.9M1563.4 551.5L1667.0 579.3M1487.5 627.4L1563.4 551.5M1431.9 420.1L1535.6 447.8M1356.1 495.9L1431.9 420.1M1535.6 447.8L1563.4 551.5M1300.5 288.7L1404.2 316.4M1224.7 364.5L1300.5 288.7M1404.2 316.4L1431.9 420.1M1169.1 157.2L1272.8 185.0M1093.2 233.1L1169.1 157.2M1272.8 185.0L1300.5 288.7M961.8 101.7L1037.7 25.8M1141.3 53.6L1169.1 157.2M1611.5 372.0L1715.1 399.7M1535.6 447.8L1611.5 372.0M1480.0 240.6L1583.7 268.3M1404.2 316.4L1480.0 240.6M1583.7 268.3L1611.5 372.0M1348.6 109.1L1452.3 136.9M1272.8 185.0L1348.6 109.1M1452.3 136.9L1480.0 240.6M1320.9 5.5L1348.6 109.1M1583.7 268.3L1659.6 192.5M1528.1 61.0L1631.8 88.8M1452.3 136.9L1528.1 61.0M1631.8 88.8L1659.6 192.5M1631.8 88.8L1707.7 12.9" stroke="#3b7bb3" stroke-width="3.5" fill="none" stroke-linecap="projecting" stroke-linejoin="miter"/>
</g>
</g>
<rect x="1013.5" y="77.8" width="629.6" height="629.0" fill="none" stroke="#262626" stroke-width="1.7"/>
<line x1="1077.6" y1="706.8" x2="1077.6" y2="712.0" stroke="#262626" stroke-width="1.6"/>
<line x1="1008.3" y1="643.0" x2="1013.5" y2="643.0" stroke="#262626" stroke-width="1.6"/>
<text x="1077.6" y="735.2" font-family="DejaVu Sans, sans-serif" font-size="23" text-anchor="middle" fill="#111">−3</text>
<text x="1003.7" y="652.0" font-family="DejaVu Sans, sans-serif" font-size="23" text-anchor="end" fill="#111">−3</text>
<line x1="1161.1" y1="706.8" x2="1161.1" y2="712.0" stroke="#262626" stroke-width="1.6"/>
<line x1="1008.3" y1="559.5" x2="1013.5" y2="559.5" stroke="#262626" stroke-width="1.6"/>
<text x="1161.1" y="735.2" font-family="DejaVu Sans, sans-serif" font-size="23" text-anchor="middle" fill="#111">−2</text>
<text x="1003.7" y="568.5" font-family="DejaVu Sans, sans-serif" font-size="23" text-anchor="end" fill="#111">−2</text>
<line x1="1244.7" y1="706.8" x2="1244.7" y2="712.0" stroke="#262626" stroke-width="1.6"/>
<line x1="1008.3" y1="475.9" x2="1013.5" y2="475.9" stroke="#262626" stroke-width="1.6"/>
<text x="1244.7" y="735.2" font-family="DejaVu Sans, sans-serif" font-size="23" text-anchor="middle" fill="#111">−1</text>
<text x="1003.7" y="484.9" font-family="DejaVu Sans, sans-serif" font-size="23" text-anchor="end" fill="#111">−1</text>
<line x1="1328.3" y1="706.8" x2="1328.3" y2="712.0" stroke="#262626" stroke-width="1.6"/>
<line x1="1008.3" y1="392.3" x2="1013.5" y2="392.3" stroke="#262626" stroke-width="1.6"/>
<text x="1328.3" y="735.2" font-family="DejaVu Sans, sans-serif" font-size="23" text-anchor="middle" fill="#111">0</text>
<text x="1003.7" y="401.3" font-family="DejaVu Sans, sans-serif" font-size="23" text-anchor="end" fill="#111">0</text>
<line x1="1411.9" y1="706.8" x2="1411.9" y2="712.0" stroke="#262626" stroke-width="1.6"/>
<line x1="1008.3" y1="308.7" x2="1013.5" y2="308.7" stroke="#262626" stroke-width="1.6"/>
<text x="1411.9" y="735.2" font-family="DejaVu Sans, sans-serif" font-size="23" text-anchor="middle" fill="#111">1</text>
<text x="1003.7" y="317.7" font-family="DejaVu Sans, sans-serif" font-size="23" text-anchor="end" fill="#111">1</text>
<line x1="1495.5" y1="706.8" x2="1495.5" y2="712.0" stroke="#262626" stroke-width="1.6"/>
<line x1="1008.3" y1="225.1" x2="1013.5" y2="225.1" stroke="#262626" stroke-width="1.6"/>
<text x="1495.5" y="735.2" font-family="DejaVu Sans, sans-serif" font-size="23" text-anchor="middle" fill="#111">2</text>
<text x="1003.7" y="234.1" font-family="DejaVu Sans, sans-serif" font-size="23" text-anchor="end" fill="#111">2</text>
<line x1="1579.0" y1="706.8" x2="1579.0" y2="712.0" stroke="#262626" stroke-width="1.6"/>
<line x1="1008.3" y1="141.6" x2="1013.5" y2="141.6" stroke="#262626" stroke-width="1.6"/>
<text x="1579.0" y="735.2" font-family="DejaVu Sans, sans-serif" font-size="23" text-anchor="middle" fill="#111">3</text>
<text x="1003.7" y="150.6" font-family="DejaVu Sans, sans-serif" font-size="23" text-anchor="end" fill="#111">3</text>
<circle cx="452.6" cy="103" r="27" fill="none" stroke="#982fab" stroke-width="6.5"/>
<circle cx="557.2" cy="130.5" r="27" fill="none" stroke="#982fab" stroke-width="6.5"/>
<circle cx="267.4" cy="151.5" r="27" fill="none" stroke="#982fab" stroke-width="6.5"/>
<circle cx="192.2" cy="227.3" r="27" fill="none" stroke="#982fab" stroke-width="6.5"/>
<circle cx="691.3" cy="266.5" r="27" fill="none" stroke="#982fab" stroke-width="6.5"/>
<circle cx="718" cy="370.3" r="27" fill="none" stroke="#982fab" stroke-width="6.5"/>
<circle cx="143.5" cy="411.3" r="27" fill="none" stroke="#982fab" stroke-width="6.5"/>
<circle cx="168.4" cy="517.4" r="27" fill="none" stroke="#982fab" stroke-width="6.5"/>
<circle cx="668.4" cy="552.3" r="27" fill="none" stroke="#982fab" stroke-width="6.5"/>
<circle cx="591.8" cy="628.5" r="27" fill="none" stroke="#982fab" stroke-width="6.5"/>
<circle cx="305" cy="653.3" r="27" fill="none" stroke="#982fab" stroke-width="6.5"/>
<circle cx="410.3" cy="678.4" r="27" fill="none" stroke="#982fab" stroke-width="6.5"/>
<rect x="770" y="71.1" width="32.1" height="641.3" fill="url(#cb)" stroke="#262626" stroke-width="1.7"/>
<line x1="802.1" y1="712.4" x2="807.3000000000001" y2="712.4" stroke="#262626" stroke-width="1.6"/>
<text x="813.1" y="723.0" font-family="DejaVu Sans, sans-serif" font-size="29" fill="#111">0.000</text>
<line x1="802.1" y1="620.8" x2="807.3000000000001" y2="620.8" stroke="#262626" stroke-width="1.6"/>
<text x="813.1" y="631.4" font-family="DejaVu Sans, sans-serif" font-size="29" fill="#111">0.001</text>
<line x1="802.1" y1="529.2" x2="807.3000000000001" y2="529.2" stroke="#262626" stroke-width="1.6"/>
<text x="813.1" y="539.8" font-family="DejaVu Sans, sans-serif" font-size="29" fill="#111">0.002</text>
<line x1="802.1" y1="437.6" x2="807.3000000000001" y2="437.6" stroke="#262626" stroke-width="1.6"/>
<text x="813.1" y="448.2" font-family="DejaVu Sans, sans-serif" font-size="29" fill="#111">0.003</text>
<line x1="802.1" y1="345.9" x2="807.3000000000001" y2="345.9" stroke="#262626" stroke-width="1.6"/>
<text x="813.1" y="356.5" font-family="DejaVu Sans, sans-serif" font-size="29" fill="#111">0.004</text>
<line x1="802.1" y1="254.3" x2="807.3000000000001" y2="254.3" stroke="#262626" stroke-width="1.6"/>
<text x="813.1" y="264.9" font-family="DejaVu Sans, sans-serif" font-size="29" fill="#111">0.005</text>
<line x1="802.1" y1="162.7" x2="807.3000000000001" y2="162.7" stroke="#262626" stroke-width="1.6"/>
<text x="813.1" y="173.3" font-family="DejaVu Sans, sans-serif" font-size="29" fill="#111">0.006</text>
<line x1="802.1" y1="71.1" x2="807.3000000000001" y2="71.1" stroke="#262626" stroke-width="1.6"/>
<text x="813.1" y="81.7" font-family="DejaVu Sans, sans-serif" font-size="29" fill="#111">0.007</text>
<rect x="1670.7" y="76.0" width="31.6" height="632.9" fill="url(#cb)" stroke="#262626" stroke-width="1.7"/>
<line x1="1702.3" y1="708.9" x2="1707.5" y2="708.9" stroke="#262626" stroke-width="1.6"/>
<text x="1713.1" y="718.7" font-family="DejaVu Sans, sans-serif" font-size="27" fill="#111">0.0</text>
<line x1="1702.3" y1="582.3" x2="1707.5" y2="582.3" stroke="#262626" stroke-width="1.6"/>
<text x="1713.1" y="592.1" font-family="DejaVu Sans, sans-serif" font-size="27" fill="#111">0.2</text>
<line x1="1702.3" y1="455.7" x2="1707.5" y2="455.7" stroke="#262626" stroke-width="1.6"/>
<text x="1713.1" y="465.5" font-family="DejaVu Sans, sans-serif" font-size="27" fill="#111">0.4</text>
<line x1="1702.3" y1="329.2" x2="1707.5" y2="329.2" stroke="#262626" stroke-width="1.6"/>
<text x="1713.1" y="339.0" font-family="DejaVu Sans, sans-serif" font-size="27" fill="#111">0.6</text>
<line x1="1702.3" y1="202.6" x2="1707.5" y2="202.6" stroke="#262626" stroke-width="1.6"/>
<text x="1713.1" y="212.4" font-family="DejaVu Sans, sans-serif" font-size="27" fill="#111">0.8</text>
<line x1="1702.3" y1="76.0" x2="1707.5" y2="76.0" stroke="#262626" stroke-width="1.6"/>
<text x="1713.1" y="85.8" font-family="DejaVu Sans, sans-serif" font-size="27" fill="#111">1.0</text>
<text x="1660.6" y="71.6" font-family="DejaVu Sans, sans-serif" font-size="15.5" fill="#111">1e−5</text>
<text x="37" y="65.2" font-family="Liberation Sans, Arial, sans-serif" font-size="46.5" fill="#111">(a)</text>
<text x="928.2" y="66.6" font-family="Liberation Sans, Arial, sans-serif" font-size="46.5" fill="#111">(b)</text>
<g transform="translate(367.7,779.85)"><text x="-1.00" y="0.00" font-family="DejaVu Sans, sans-serif" font-size="32.00" font-style="italic" fill="#111">k</text><text x="17.30" y="5.55" font-family="DejaVu Sans, sans-serif" font-size="21.50" font-style="italic" fill="#111">x</text><text x="30.40" y="0.00" font-family="DejaVu Sans, sans-serif" font-size="32.00" font-style="normal" fill="#111">(</text><text x="43.20" y="0.00" font-family="DejaVu Sans, sans-serif" font-size="32.00" font-style="italic" fill="#111">Å</text><text x="68.80" y="-12.35" font-family="DejaVu Sans, sans-serif" font-size="21.50" font-style="normal" fill="#111">−</text><text x="88.20" y="-12.15" font-family="DejaVu Sans, sans-serif" font-size="21.50" font-style="normal" fill="#111">1</text><text x="102.30" y="0.00" font-family="DejaVu Sans, sans-serif" font-size="32.00" font-style="normal" fill="#111">)</text></g>
<g transform="translate(1276,772.3)"><text x="-0.93" y="0.00" font-family="DejaVu Sans, sans-serif" font-size="29.60" font-style="italic" fill="#111">k</text><text x="16.00" y="5.13" font-family="DejaVu Sans, sans-serif" font-size="19.89" font-style="italic" fill="#111">x</text><text x="28.12" y="0.00" font-family="DejaVu Sans, sans-serif" font-size="29.60" font-style="normal" fill="#111">(</text><text x="39.96" y="0.00" font-family="DejaVu Sans, sans-serif" font-size="29.60" font-style="italic" fill="#111">Å</text><text x="63.64" y="-11.42" font-family="DejaVu Sans, sans-serif" font-size="19.89" font-style="normal" fill="#111">−</text><text x="81.59" y="-11.24" font-family="DejaVu Sans, sans-serif" font-size="19.89" font-style="normal" fill="#111">1</text><text x="94.63" y="0.00" font-family="DejaVu Sans, sans-serif" font-size="29.60" font-style="normal" fill="#111">)</text></g>
<g transform="translate(40.9,448) rotate(-90)"><text x="-1.00" y="0.00" font-family="DejaVu Sans, sans-serif" font-size="32.00" font-style="italic" fill="#111">k</text><text x="17.30" y="5.55" font-family="DejaVu Sans, sans-serif" font-size="21.50" font-style="italic" fill="#111">y</text><text x="30.40" y="0.00" font-family="DejaVu Sans, sans-serif" font-size="32.00" font-style="normal" fill="#111">(</text><text x="43.20" y="0.00" font-family="DejaVu Sans, sans-serif" font-size="32.00" font-style="italic" fill="#111">Å</text><text x="68.80" y="-12.35" font-family="DejaVu Sans, sans-serif" font-size="21.50" font-style="normal" fill="#111">−</text><text x="88.20" y="-12.15" font-family="DejaVu Sans, sans-serif" font-size="21.50" font-style="normal" fill="#111">1</text><text x="102.30" y="0.00" font-family="DejaVu Sans, sans-serif" font-size="32.00" font-style="normal" fill="#111">)</text></g>
<text x="630.7" y="42.9" font-family="Liberation Serif, DejaVu Serif, serif" font-size="38" font-style="italic" font-weight="normal" fill="#111">A</text><text x="656.7" y="42.9" font-family="Liberation Serif, DejaVu Serif, serif" font-size="38" font-style="normal" font-weight="normal" fill="#111">(</text><text x="671.2" y="42.9" font-family="Liberation Serif, DejaVu Serif, serif" font-size="38" font-style="normal" font-weight="bold" fill="#111">k</text><text x="690.5" y="42.9" font-family="Liberation Serif, DejaVu Serif, serif" font-size="38" font-style="normal" font-weight="normal" fill="#111">,</text><text x="706.3" y="42.9" font-family="Liberation Serif, DejaVu Serif, serif" font-size="38" font-style="italic" font-weight="normal" fill="#111">ω</text><text x="790.5" y="42.9" font-family="Liberation Serif, DejaVu Serif, serif" font-size="38" font-style="italic" font-weight="normal" fill="#111">ϵ</text><text x="807.6" y="50.7" font-family="Liberation Serif, DejaVu Serif, serif" font-size="26.5" font-style="italic" font-weight="normal" fill="#111">CBM</text><text x="868.0" y="42.9" font-family="Liberation Serif, DejaVu Serif, serif" font-size="38" font-style="normal" font-weight="normal" fill="#111">)</text><text transform="translate(744.0,45.3) scale(1.25,1)" x="0" y="0" font-family="Liberation Serif, DejaVu Serif, serif" font-size="38" fill="#111">=</text>
<text x="1497.5" y="42.9" font-family="Liberation Serif, DejaVu Serif, serif" font-size="38" font-style="italic" font-weight="normal" fill="#111">A</text><text x="1523.5" y="42.9" font-family="Liberation Serif, DejaVu Serif, serif" font-size="38" font-style="normal" font-weight="normal" fill="#111">(</text><text x="1538.0" y="42.9" font-family="Liberation Serif, DejaVu Serif, serif" font-size="38" font-style="normal" font-weight="bold" fill="#111">k</text><text x="1557.3" y="42.9" font-family="Liberation Serif, DejaVu Serif, serif" font-size="38" font-style="normal" font-weight="normal" fill="#111">,</text><text x="1573.1" y="42.9" font-family="Liberation Serif, DejaVu Serif, serif" font-size="38" font-style="italic" font-weight="normal" fill="#111">ω</text><text x="1657.3" y="42.9" font-family="Liberation Serif, DejaVu Serif, serif" font-size="38" font-style="italic" font-weight="normal" fill="#111">ϵ</text><text x="1674.4" y="50.7" font-family="Liberation Serif, DejaVu Serif, serif" font-size="26.5" font-style="italic" font-weight="normal" fill="#111">CBM</text><text x="1734.8" y="42.9" font-family="Liberation Serif, DejaVu Serif, serif" font-size="38" font-style="normal" font-weight="normal" fill="#111">)</text><text transform="translate(1610.8,45.3) scale(1.25,1)" x="0" y="0" font-family="Liberation Serif, DejaVu Serif, serif" font-size="38" fill="#111">=</text>
</svg></body></html>
